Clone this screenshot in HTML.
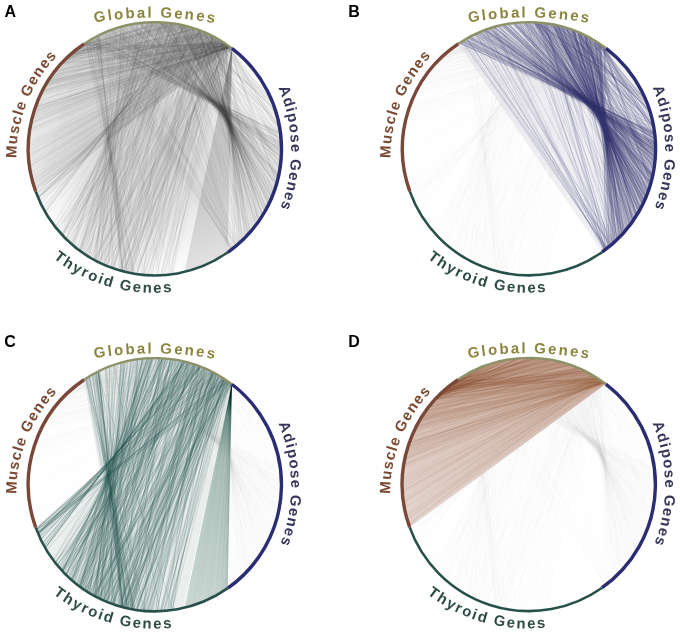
<!DOCTYPE html><html><head><meta charset="utf-8"><style>html,body{margin:0;padding:0;background:#fff;width:680px;height:635px;overflow:hidden}svg{display:block;filter:blur(0.3px)}</style></head><body><svg width="680" height="635" viewBox="0 0 680 635"><defs><g id="sM"><line x1="-124.9" y1="20.7" x2="74.8" y2="-102.1"/><line x1="-71.5" y1="-104.5" x2="69.4" y2="-105.9"/><line x1="-119.8" y1="40.8" x2="73.9" y2="-102.8"/><line x1="-121.6" y1="-35.3" x2="67.4" y2="-107.2"/><line x1="-126.4" y1="7.5" x2="68.9" y2="-106.2"/><line x1="-120.6" y1="-38.4" x2="64.1" y2="-109.1"/><line x1="-88.6" y1="-90.4" x2="75.4" y2="-101.7"/><line x1="-120.9" y1="-37.6" x2="62.9" y2="-109.9"/><line x1="-96.3" y1="-82.2" x2="71.4" y2="-104.5"/><line x1="-82.5" y1="-96.1" x2="69.4" y2="-105.9"/><line x1="-126.5" y1="-4.8" x2="76.1" y2="-101.1"/><line x1="-117.1" y1="-48.2" x2="73.7" y2="-102.9"/><line x1="-78.6" y1="-99.2" x2="73.6" y2="-103"/><line x1="-94.3" y1="-84.5" x2="71.8" y2="-104.3"/><line x1="-120.4" y1="39.1" x2="65.5" y2="-108.4"/><line x1="-101.1" y1="-76.2" x2="69.6" y2="-105.8"/><line x1="-106.7" y1="-68.1" x2="73.1" y2="-103.3"/><line x1="-125.8" y1="14.6" x2="58.5" y2="-112.3"/><line x1="-107.4" y1="-67" x2="71.1" y2="-104.8"/><line x1="-121.4" y1="35.8" x2="71.6" y2="-104.4"/><line x1="-107.3" y1="-67.2" x2="64.2" y2="-109.1"/><line x1="-126.1" y1="10.9" x2="64.6" y2="-108.9"/><line x1="-121.4" y1="35.8" x2="65" y2="-108.6"/><line x1="-123.8" y1="-26.6" x2="59.7" y2="-111.6"/><line x1="-88.7" y1="-90.3" x2="74.8" y2="-102.2"/><line x1="-122.9" y1="30.2" x2="75.9" y2="-101.3"/><line x1="-124.3" y1="24.1" x2="73" y2="-103.5"/><line x1="-99.8" y1="-77.9" x2="65.7" y2="-108.2"/><line x1="-120.2" y1="39.6" x2="69.4" y2="-105.9"/><line x1="-125.9" y1="13.5" x2="73.6" y2="-103"/><line x1="-122.4" y1="32.3" x2="76.2" y2="-101.1"/><line x1="-93.5" y1="-85.4" x2="75.5" y2="-101.6"/><line x1="-83.6" y1="-95.1" x2="74" y2="-102.7"/><line x1="-72.5" y1="-103.8" x2="73.8" y2="-102.9"/><line x1="-120.7" y1="-38.3" x2="74.1" y2="-102.6"/><line x1="-71.8" y1="-104.2" x2="66.7" y2="-107.6"/><line x1="-80.2" y1="-97.9" x2="70.4" y2="-105.2"/><line x1="-72.5" y1="-103.8" x2="75.4" y2="-101.7"/><line x1="-106.5" y1="-68.5" x2="73.3" y2="-103.2"/><line x1="-99.3" y1="-78.6" x2="72.6" y2="-103.7"/><line x1="-100.1" y1="-77.6" x2="66.4" y2="-107.8"/><line x1="-94.4" y1="-84.3" x2="72" y2="-104.1"/><line x1="-76.7" y1="-100.7" x2="69.8" y2="-105.6"/><line x1="-108.2" y1="-65.8" x2="75.5" y2="-101.6"/><line x1="-126.3" y1="9.2" x2="62.7" y2="-110"/><line x1="-108.1" y1="-65.8" x2="70.6" y2="-105.1"/><line x1="-126.4" y1="7.2" x2="66.8" y2="-107.5"/><line x1="-126.4" y1="6.9" x2="72.4" y2="-103.9"/><line x1="-93.7" y1="-85.2" x2="73.2" y2="-103.3"/><line x1="-126.6" y1="-1.2" x2="72" y2="-104.2"/><line x1="-89.9" y1="-89.1" x2="69.6" y2="-105.8"/><line x1="-121.8" y1="-34.6" x2="73.1" y2="-103.4"/><line x1="-125.4" y1="17.7" x2="69.6" y2="-105.8"/><line x1="-109.7" y1="-63.3" x2="71.6" y2="-104.4"/><line x1="-123.9" y1="-26.1" x2="73.4" y2="-103.1"/><line x1="-124.9" y1="-20.9" x2="73.9" y2="-102.8"/><line x1="-125.3" y1="-18.4" x2="76.2" y2="-101.1"/><line x1="-92.4" y1="-86.6" x2="74" y2="-102.7"/><line x1="-123.4" y1="28.2" x2="63.6" y2="-109.5"/><line x1="-121.3" y1="-36.2" x2="73.7" y2="-102.9"/><line x1="-80.2" y1="-98" x2="69.7" y2="-105.7"/><line x1="-105.5" y1="-70" x2="73.1" y2="-103.4"/><line x1="-77.1" y1="-100.4" x2="74.1" y2="-102.6"/><line x1="-126.6" y1="-0.5" x2="70.9" y2="-104.9"/><line x1="-97.9" y1="-80.3" x2="69.2" y2="-106"/><line x1="-117.5" y1="-47" x2="65.1" y2="-108.6"/><line x1="-107.2" y1="-67.3" x2="61.8" y2="-110.5"/><line x1="-105.5" y1="-70" x2="72.8" y2="-103.5"/><line x1="-126.5" y1="-5.6" x2="67.7" y2="-107"/><line x1="-125.5" y1="16.9" x2="73.3" y2="-103.2"/><line x1="-87" y1="-92" x2="73.8" y2="-102.9"/><line x1="-121.5" y1="35.4" x2="68.4" y2="-106.5"/><line x1="-122.2" y1="-32.9" x2="69.1" y2="-106.1"/><line x1="-120.1" y1="40.1" x2="68.4" y2="-106.5"/><line x1="-118.6" y1="-44.2" x2="71.1" y2="-104.7"/><line x1="-126.6" y1="3.1" x2="67.7" y2="-107"/><line x1="-105.1" y1="-70.6" x2="75.5" y2="-101.6"/><line x1="-120.8" y1="37.9" x2="75.2" y2="-101.9"/><line x1="-95.2" y1="-83.4" x2="74.6" y2="-102.3"/><line x1="-126.6" y1="1.7" x2="60.5" y2="-111.2"/><line x1="-119.3" y1="-42.4" x2="75" y2="-102"/><line x1="-123.8" y1="-26.3" x2="73.1" y2="-103.3"/><line x1="-119.8" y1="-40.9" x2="71" y2="-104.8"/><line x1="-125.3" y1="17.8" x2="75.3" y2="-101.8"/><line x1="-113.5" y1="-56" x2="71.7" y2="-104.3"/><line x1="-125.1" y1="-19.3" x2="68.9" y2="-106.2"/><line x1="-121.8" y1="34.5" x2="73.8" y2="-102.8"/><line x1="-79.2" y1="-98.7" x2="74.8" y2="-102.1"/><line x1="-126.4" y1="6.6" x2="75.3" y2="-101.8"/><line x1="-93.7" y1="-85.1" x2="66" y2="-108"/><line x1="-102.8" y1="-73.9" x2="65.7" y2="-108.2"/><line x1="-126.6" y1="-2.4" x2="70.9" y2="-104.9"/><line x1="-108" y1="-66.1" x2="76.1" y2="-101.2"/><line x1="-81" y1="-97.3" x2="75.3" y2="-101.7"/><line x1="-119.8" y1="-40.8" x2="72.9" y2="-103.5"/><line x1="-124.1" y1="-24.8" x2="75.1" y2="-101.9"/><line x1="-119.7" y1="-41.2" x2="74.3" y2="-102.5"/><line x1="-122" y1="33.8" x2="68.9" y2="-106.2"/><line x1="-101.4" y1="-75.8" x2="74.6" y2="-102.3"/><line x1="-122" y1="-33.7" x2="73.8" y2="-102.9"/><line x1="-109.8" y1="-63" x2="76.1" y2="-101.2"/><line x1="-111.2" y1="-60.5" x2="75.1" y2="-102"/><line x1="-107.3" y1="-67.2" x2="75.5" y2="-101.6"/><line x1="-96.2" y1="-82.3" x2="52.3" y2="-115.3"/><line x1="-115.5" y1="-51.9" x2="72.3" y2="-103.9"/><line x1="-125.5" y1="-16.8" x2="73.5" y2="-103.1"/><line x1="-123.4" y1="-28.3" x2="70.6" y2="-105.1"/><line x1="-123.2" y1="29.1" x2="65.7" y2="-108.2"/><line x1="-126.6" y1="2.2" x2="74" y2="-102.7"/><line x1="-106" y1="-69.2" x2="65.3" y2="-108.4"/><line x1="-123.7" y1="-27.1" x2="71" y2="-104.8"/><line x1="-125.5" y1="17" x2="65.6" y2="-108.3"/><line x1="-114.8" y1="-53.4" x2="75.3" y2="-101.8"/><line x1="-76.6" y1="-100.8" x2="71.7" y2="-104.3"/><line x1="-119.9" y1="40.6" x2="69.6" y2="-105.7"/><line x1="-79.5" y1="-98.5" x2="73.7" y2="-102.9"/><line x1="-101.2" y1="-76" x2="73.1" y2="-103.4"/><line x1="-109.1" y1="-64.2" x2="71.7" y2="-104.4"/><line x1="-115.8" y1="-51.1" x2="70.1" y2="-105.4"/><line x1="-78.8" y1="-99.1" x2="69.6" y2="-105.8"/><line x1="-122.5" y1="32" x2="66.5" y2="-107.7"/><line x1="-122.7" y1="31.3" x2="68.4" y2="-106.6"/><line x1="-123" y1="-30" x2="74.4" y2="-102.5"/><line x1="-77.2" y1="-100.3" x2="67" y2="-107.4"/><line x1="-109.9" y1="-62.8" x2="76.1" y2="-101.2"/><line x1="-96.6" y1="-81.9" x2="71.4" y2="-104.6"/><line x1="-98.2" y1="-79.9" x2="71.1" y2="-104.7"/><line x1="-98.1" y1="-80.1" x2="68" y2="-106.8"/><line x1="-113.5" y1="-56.1" x2="72.5" y2="-103.8"/><line x1="-73.6" y1="-103" x2="55.8" y2="-113.6"/><line x1="-109" y1="-64.4" x2="74.2" y2="-102.5"/><line x1="-71.6" y1="-104.4" x2="74.2" y2="-102.6"/><line x1="-78" y1="-99.7" x2="72.3" y2="-103.9"/><line x1="-107.4" y1="-67.1" x2="65.8" y2="-108.1"/><line x1="-125.1" y1="-19.7" x2="69.7" y2="-105.7"/><line x1="-102.8" y1="-73.8" x2="69.8" y2="-105.6"/><line x1="-110.9" y1="-61.1" x2="75.8" y2="-101.4"/><line x1="-76.7" y1="-100.7" x2="69.1" y2="-106.1"/><line x1="-112.8" y1="-57.6" x2="65.7" y2="-108.2"/><line x1="-125.2" y1="-19.1" x2="74.2" y2="-102.6"/><line x1="-125.6" y1="-16.2" x2="73.5" y2="-103.1"/><line x1="-112.9" y1="-57.3" x2="72.6" y2="-103.7"/><line x1="-87.6" y1="-91.4" x2="60.6" y2="-111.1"/><line x1="-119.7" y1="-41.2" x2="71.2" y2="-104.7"/><line x1="-126.5" y1="-3.9" x2="72.5" y2="-103.8"/><line x1="-83.3" y1="-95.3" x2="70.2" y2="-105.4"/><line x1="-71.9" y1="-104.2" x2="57.1" y2="-113"/><line x1="-93.4" y1="-85.4" x2="76" y2="-101.3"/><line x1="-114.1" y1="-54.7" x2="70.7" y2="-105"/><line x1="-109.5" y1="-63.5" x2="72.1" y2="-104"/><line x1="-122.5" y1="31.9" x2="71.9" y2="-104.2"/><line x1="-90.9" y1="-88.1" x2="65.7" y2="-108.2"/><line x1="-107.2" y1="-67.3" x2="67.6" y2="-107"/><line x1="-114.9" y1="-53.2" x2="69.3" y2="-105.9"/><line x1="-124.4" y1="23.3" x2="73.5" y2="-103.1"/><line x1="-126.5" y1="5" x2="71.6" y2="-104.4"/><line x1="-125.3" y1="18.2" x2="69.5" y2="-105.8"/><line x1="-84.8" y1="-94" x2="68" y2="-106.8"/><line x1="-91.9" y1="-87.1" x2="69.5" y2="-105.8"/><line x1="-125.1" y1="-19.7" x2="74.5" y2="-102.4"/><line x1="-124.1" y1="-25" x2="63.3" y2="-109.6"/><line x1="-74.8" y1="-102.1" x2="70.6" y2="-105.1"/><line x1="-86.8" y1="-92.1" x2="71.2" y2="-104.7"/><line x1="-108.4" y1="-65.4" x2="64.9" y2="-108.7"/><line x1="-87.4" y1="-91.5" x2="58.9" y2="-112.1"/><line x1="-106.5" y1="-68.4" x2="74.8" y2="-102.2"/><line x1="-112" y1="-59" x2="76.1" y2="-101.2"/><line x1="-126.4" y1="-7.2" x2="68.6" y2="-106.4"/><line x1="-102.5" y1="-74.3" x2="68.4" y2="-106.5"/><line x1="-96.2" y1="-82.3" x2="65.8" y2="-108.1"/><line x1="-102.8" y1="-73.9" x2="68.7" y2="-106.3"/><line x1="-112.5" y1="-58.1" x2="64.5" y2="-108.9"/><line x1="-125.7" y1="15.1" x2="73.5" y2="-103.1"/><line x1="-77.6" y1="-100" x2="70.4" y2="-105.2"/><line x1="-92.6" y1="-86.3" x2="72.8" y2="-103.6"/><line x1="-113.1" y1="-56.9" x2="74" y2="-102.7"/><line x1="-82.7" y1="-95.9" x2="68.2" y2="-106.7"/><line x1="-108.9" y1="-64.6" x2="70.5" y2="-105.2"/><line x1="-112.2" y1="-58.6" x2="76.1" y2="-101.1"/><line x1="-108.6" y1="-65" x2="59.1" y2="-112"/><line x1="-89.8" y1="-89.3" x2="42.5" y2="-119.3"/><line x1="-83.5" y1="-95.1" x2="-1.3" y2="-126.6"/><line x1="-89.9" y1="-89.1" x2="40.4" y2="-120"/><line x1="-119.2" y1="-42.7" x2="75.3" y2="-101.8"/><line x1="-91" y1="-88" x2="30" y2="-123"/><line x1="-118.3" y1="-45.1" x2="49" y2="-116.8"/><line x1="-110.3" y1="-62.1" x2="53.6" y2="-114.7"/><line x1="-93" y1="-85.9" x2="40.4" y2="-120"/><line x1="-106.8" y1="-68" x2="75.3" y2="-101.8"/><line x1="-91.5" y1="-87.5" x2="46.1" y2="-117.9"/><line x1="-123.3" y1="-28.8" x2="75.3" y2="-101.8"/><line x1="-73.5" y1="-103" x2="6.7" y2="-126.4"/><line x1="-122.7" y1="-31.3" x2="75.3" y2="-101.8"/><line x1="-108.9" y1="-64.6" x2="66.1" y2="-108"/><line x1="-103.4" y1="-73.1" x2="68" y2="-106.8"/><line x1="-109.8" y1="-63" x2="30.1" y2="-123"/><line x1="-109.6" y1="-63.4" x2="62.5" y2="-110.1"/><line x1="-73.6" y1="-103" x2="8.3" y2="-126.3"/><line x1="-85.3" y1="-93.6" x2="18.5" y2="-125.2"/><line x1="-80.5" y1="-97.7" x2="15" y2="-125.7"/><line x1="-96.1" y1="-82.4" x2="32.6" y2="-122.3"/><line x1="-100" y1="-77.7" x2="37.2" y2="-121"/><line x1="-112.6" y1="-57.8" x2="49" y2="-116.7"/><line x1="-105.4" y1="-70.1" x2="47.8" y2="-117.2"/><line x1="-97.5" y1="-80.8" x2="48.7" y2="-116.9"/><line x1="-106.7" y1="-68.2" x2="70.2" y2="-105.4"/><line x1="-102.7" y1="-74.1" x2="49.8" y2="-116.4"/><line x1="-119.5" y1="-41.8" x2="75.3" y2="-101.8"/><line x1="-109.8" y1="-62.9" x2="75.3" y2="-101.8"/><line x1="-85.4" y1="-93.5" x2="0.3" y2="-126.6"/><line x1="-89" y1="-90.1" x2="33.2" y2="-122.2"/><line x1="-84.4" y1="-94.4" x2="26.6" y2="-123.8"/><line x1="-110.6" y1="-61.6" x2="71" y2="-104.8"/><line x1="-80.4" y1="-97.8" x2="34.8" y2="-121.7"/><line x1="-117.3" y1="-47.6" x2="72.8" y2="-103.6"/><line x1="-98" y1="-80.1" x2="56" y2="-113.5"/><line x1="-117.5" y1="-47.2" x2="57.4" y2="-112.8"/><line x1="-101" y1="-76.4" x2="55.8" y2="-113.7"/><line x1="-101.2" y1="-76.1" x2="34" y2="-121.9"/><line x1="-104.5" y1="-71.4" x2="39.4" y2="-120.3"/><line x1="-120.8" y1="-37.9" x2="75.3" y2="-101.8"/><line x1="-73.1" y1="-103.4" x2="1.9" y2="-126.6"/><line x1="-122.6" y1="-31.4" x2="75.3" y2="-101.8"/><line x1="-71.4" y1="-104.5" x2="7.6" y2="-126.4"/><line x1="-105" y1="-70.8" x2="58" y2="-112.6"/><line x1="-104" y1="-72.2" x2="48.7" y2="-116.8"/><line x1="-71.2" y1="-104.7" x2="-13.4" y2="-125.9"/><line x1="-83.9" y1="-94.8" x2="40.5" y2="-119.9"/><line x1="-90.5" y1="-88.5" x2="49.1" y2="-116.7"/><line x1="-93.8" y1="-85" x2="39.4" y2="-120.3"/><line x1="-95.5" y1="-83.1" x2="39.1" y2="-120.4"/><line x1="-90.8" y1="-88.2" x2="24.4" y2="-124.2"/><line x1="-89.3" y1="-89.7" x2="19.7" y2="-125.1"/><line x1="-123.9" y1="-26.2" x2="75.3" y2="-101.8"/><line x1="-120" y1="-40.5" x2="69.2" y2="-106"/><line x1="-74.9" y1="-102.1" x2="11.2" y2="-126.1"/><line x1="-120.6" y1="-38.4" x2="75.3" y2="-101.8"/><line x1="-75.2" y1="-101.8" x2="7.5" y2="-126.4"/><line x1="-112.4" y1="-58.2" x2="72.5" y2="-103.8"/><line x1="-100.2" y1="-77.4" x2="53.4" y2="-114.8"/><line x1="-88.2" y1="-90.8" x2="20.8" y2="-124.9"/><line x1="-108.5" y1="-65.3" x2="68.2" y2="-106.6"/><line x1="-74.1" y1="-102.7" x2="11.2" y2="-126.1"/><line x1="-90.4" y1="-88.6" x2="51.6" y2="-115.6"/><line x1="-106.1" y1="-69.1" x2="71.7" y2="-104.3"/><line x1="-85.5" y1="-93.4" x2="23.4" y2="-124.4"/><line x1="-121.2" y1="-36.4" x2="75.3" y2="-101.8"/><line x1="-121.9" y1="-34.2" x2="75.3" y2="-101.8"/><line x1="-109.1" y1="-64.3" x2="50.9" y2="-115.9"/><line x1="-85.5" y1="-93.3" x2="50.5" y2="-116.1"/><line x1="-121.1" y1="-37" x2="75.3" y2="-101.8"/><line x1="-74.2" y1="-102.6" x2="6.5" y2="-126.4"/><line x1="-81.4" y1="-96.9" x2="20.2" y2="-125"/><line x1="-104.7" y1="-71.1" x2="64.8" y2="-108.7"/><line x1="-113.5" y1="-56" x2="57.1" y2="-113"/><line x1="-91.8" y1="-87.2" x2="22.9" y2="-124.5"/><line x1="-121.6" y1="-35.1" x2="75.3" y2="-101.8"/><line x1="-79.9" y1="-98.2" x2="23.7" y2="-124.4"/><line x1="-83.6" y1="-95" x2="29.6" y2="-123.1"/><line x1="-89.9" y1="-89.2" x2="64.5" y2="-108.9"/><line x1="-100.8" y1="-76.6" x2="51.3" y2="-115.7"/><line x1="-123" y1="-29.9" x2="75.3" y2="-101.8"/><line x1="-104.5" y1="-71.4" x2="66.2" y2="-107.9"/><line x1="-77.8" y1="-99.9" x2="24.8" y2="-124.2"/><line x1="-80.6" y1="-97.6" x2="14.4" y2="-125.8"/><line x1="-88.6" y1="-90.5" x2="18.9" y2="-125.2"/><line x1="-82.7" y1="-95.8" x2="29" y2="-123.2"/><line x1="-105.5" y1="-70" x2="51.1" y2="-115.8"/><line x1="-122.2" y1="-32.9" x2="75.3" y2="-101.8"/><line x1="-88.7" y1="-90.3" x2="22.9" y2="-124.5"/><line x1="-99.3" y1="-78.5" x2="62.6" y2="-110"/><line x1="-77.8" y1="-99.9" x2="14.6" y2="-125.8"/><line x1="-114" y1="-55.1" x2="73.4" y2="-103.2"/><line x1="-119.6" y1="-41.6" x2="67.4" y2="-107.2"/><line x1="-83.1" y1="-95.5" x2="6.9" y2="-126.4"/><line x1="-91.1" y1="-87.9" x2="11.6" y2="-126.1"/><line x1="-81.9" y1="-96.6" x2="23.4" y2="-124.4"/><line x1="-84.8" y1="-94" x2="17.5" y2="-125.4"/><line x1="-118.6" y1="-44.2" x2="57.4" y2="-112.8"/><line x1="-114.8" y1="-53.3" x2="75.3" y2="-101.8"/><line x1="-86.9" y1="-92" x2="29.5" y2="-123.1"/><line x1="-103.4" y1="-73.1" x2="43" y2="-119.1"/><line x1="-76.6" y1="-100.8" x2="28.5" y2="-123.4"/><line x1="-76.9" y1="-100.5" x2="21.2" y2="-124.8"/><line x1="-103.8" y1="-72.5" x2="57.4" y2="-112.9"/><line x1="-120.4" y1="-39.1" x2="75.3" y2="-101.8"/><line x1="-96.4" y1="-82" x2="39.4" y2="-120.3"/><line x1="-98.2" y1="-79.9" x2="53.8" y2="-114.6"/><line x1="-105.4" y1="-70.1" x2="45.1" y2="-118.3"/><line x1="-106.9" y1="-67.9" x2="44.8" y2="-118.4"/><line x1="-107.8" y1="-66.4" x2="47.4" y2="-117.4"/><line x1="-77.6" y1="-100.1" x2="20" y2="-125"/><line x1="-118.5" y1="-44.5" x2="75.3" y2="-101.8"/><line x1="-84.2" y1="-94.6" x2="18.4" y2="-125.3"/><line x1="-100.1" y1="-77.5" x2="52.4" y2="-115.2"/><line x1="-81.4" y1="-96.9" x2="35.8" y2="-121.4"/><line x1="-78.2" y1="-99.5" x2="-0.5" y2="-126.6"/><line x1="-86.4" y1="-92.5" x2="36" y2="-121.4"/><line x1="-111.4" y1="-60.1" x2="75.3" y2="-101.8"/><line x1="-110.2" y1="-62.4" x2="67.5" y2="-107.1"/><line x1="-103.1" y1="-73.5" x2="58.4" y2="-112.3"/><line x1="-122.4" y1="-32.4" x2="75.3" y2="-101.8"/><line x1="-123.8" y1="-26.3" x2="75.3" y2="-101.8"/><line x1="-86.8" y1="-92.1" x2="42.7" y2="-119.2"/><line x1="-100.7" y1="-76.7" x2="38.8" y2="-120.5"/><line x1="-96.7" y1="-81.7" x2="49.5" y2="-116.5"/><line x1="-112.1" y1="-58.9" x2="75.3" y2="-101.8"/><line x1="-120.6" y1="-38.6" x2="75.3" y2="-101.8"/><line x1="-86.7" y1="-92.2" x2="31.1" y2="-122.7"/><line x1="-87.2" y1="-91.8" x2="31.8" y2="-122.5"/><line x1="-72.4" y1="-103.9" x2="24.8" y2="-124.1"/><line x1="-113.9" y1="-55.2" x2="75.3" y2="-101.8"/><line x1="-95.2" y1="-83.5" x2="27.6" y2="-123.5"/><line x1="-71.2" y1="-104.7" x2="-10" y2="-126.2"/><line x1="-120.3" y1="-39.4" x2="75.3" y2="-101.8"/><line x1="-109.1" y1="-64.2" x2="68.5" y2="-106.5"/><line x1="-94.7" y1="-84" x2="40.1" y2="-120.1"/><line x1="-83.6" y1="-95.1" x2="25.4" y2="-124"/><line x1="-72.6" y1="-103.7" x2="5.1" y2="-126.5"/><line x1="-71.6" y1="-104.4" x2="12.3" y2="-126"/><line x1="-113.4" y1="-56.3" x2="51.9" y2="-115.5"/><line x1="-100.9" y1="-76.5" x2="54.9" y2="-114.1"/><line x1="-78.3" y1="-99.5" x2="29.7" y2="-123.1"/><line x1="-76.1" y1="-101.1" x2="21.9" y2="-124.7"/><line x1="-114.8" y1="-53.4" x2="61.1" y2="-110.9"/><line x1="-122.9" y1="-30.3" x2="75.3" y2="-101.8"/><line x1="-101.9" y1="-75.1" x2="53.3" y2="-114.8"/><line x1="-100.2" y1="-77.4" x2="46.2" y2="-117.9"/><line x1="-72.3" y1="-103.9" x2="13.4" y2="-125.9"/><line x1="-116.6" y1="-49.2" x2="75.3" y2="-101.8"/><line x1="-103.1" y1="-73.5" x2="39.8" y2="-120.2"/><line x1="-93.9" y1="-84.9" x2="44.1" y2="-118.7"/><line x1="-107.8" y1="-66.3" x2="75.3" y2="-101.8"/><line x1="-121.2" y1="-36.7" x2="75.3" y2="-101.8"/><line x1="-124.2" y1="-24.3" x2="75.3" y2="-101.8"/><line x1="-85" y1="-93.8" x2="30.1" y2="-123"/><line x1="-73.4" y1="-103.1" x2="13.6" y2="-125.9"/><line x1="-75.9" y1="-101.3" x2="27.3" y2="-123.6"/><line x1="-111.5" y1="-59.9" x2="73.2" y2="-103.3"/><line x1="-92.5" y1="-86.5" x2="48.8" y2="-116.8"/><line x1="-84.4" y1="-94.4" x2="20.4" y2="-125"/><line x1="-71.2" y1="-104.7" x2="21.2" y2="-124.8"/><line x1="-104.7" y1="-71.1" x2="63" y2="-109.8"/><line x1="-119.5" y1="-41.9" x2="75.3" y2="-101.8"/><line x1="-91.7" y1="-87.3" x2="52.3" y2="-115.3"/><line x1="-85.8" y1="-93.1" x2="16.6" y2="-125.5"/><line x1="-85.8" y1="-93.1" x2="14.8" y2="-125.7"/><line x1="-105.1" y1="-70.5" x2="49.4" y2="-116.5"/><line x1="-119.1" y1="-42.8" x2="75.3" y2="-101.8"/><line x1="-113.2" y1="-56.6" x2="73" y2="-103.5"/></g><g id="sMt"><line x1="-76" y1="-101.2" x2="-14.9" y2="-125.7"/><line x1="-81.7" y1="-96.7" x2="-24.8" y2="-124.1"/><line x1="-89.9" y1="-89.1" x2="-32.2" y2="-122.4"/><line x1="-91.8" y1="-87.2" x2="-27.6" y2="-123.6"/><line x1="-89.4" y1="-89.6" x2="33.6" y2="-122.1"/><line x1="-88.8" y1="-90.2" x2="-53.5" y2="-114.7"/><line x1="-85.1" y1="-93.8" x2="-32.8" y2="-122.3"/><line x1="-78.9" y1="-99" x2="-30" y2="-123"/><line x1="-82" y1="-96.5" x2="-36.3" y2="-121.3"/><line x1="-83.7" y1="-95" x2="59.3" y2="-111.8"/><line x1="-87.7" y1="-91.3" x2="13.2" y2="-125.9"/><line x1="-84.7" y1="-94.1" x2="-50.4" y2="-116.1"/><line x1="-93.7" y1="-85.2" x2="56.2" y2="-113.5"/><line x1="-86.9" y1="-92.1" x2="35.4" y2="-121.5"/><line x1="-85.3" y1="-93.6" x2="55.6" y2="-113.7"/><line x1="-90" y1="-89" x2="7.1" y2="-126.4"/><line x1="-82.2" y1="-96.3" x2="49.8" y2="-116.4"/><line x1="-93.5" y1="-85.4" x2="-10.2" y2="-126.2"/><line x1="-83.9" y1="-94.8" x2="21.9" y2="-124.7"/><line x1="-91.2" y1="-87.8" x2="15.6" y2="-125.6"/><line x1="-78.8" y1="-99.1" x2="41.8" y2="-119.5"/><line x1="-89.4" y1="-89.6" x2="1" y2="-126.6"/><line x1="-87.8" y1="-91.2" x2="-6.6" y2="-126.4"/><line x1="-86.4" y1="-92.5" x2="68.9" y2="-106.2"/><line x1="-93.8" y1="-85" x2="69.2" y2="-106"/><line x1="-93.4" y1="-85.5" x2="-49.4" y2="-116.6"/><line x1="-89.8" y1="-89.2" x2="-20.9" y2="-124.9"/><line x1="-74.9" y1="-102.1" x2="56" y2="-113.5"/><line x1="-73" y1="-103.5" x2="-6.3" y2="-126.4"/><line x1="-93.8" y1="-85.1" x2="27.1" y2="-123.7"/><line x1="-73.8" y1="-102.8" x2="-45.5" y2="-118.1"/><line x1="-75.6" y1="-101.6" x2="-59.2" y2="-111.9"/><line x1="-77.9" y1="-99.8" x2="8.4" y2="-126.3"/><line x1="-73.6" y1="-103" x2="60.3" y2="-111.3"/><line x1="-93.1" y1="-85.8" x2="9.1" y2="-126.3"/><line x1="-89" y1="-90" x2="0.8" y2="-126.6"/><line x1="-92.7" y1="-86.2" x2="-10.5" y2="-126.2"/><line x1="-85.4" y1="-93.5" x2="-58.9" y2="-112"/><line x1="-83.9" y1="-94.8" x2="62.7" y2="-110"/><line x1="-92.8" y1="-86.1" x2="68.8" y2="-106.3"/><line x1="-83.6" y1="-95.1" x2="-31.5" y2="-122.6"/><line x1="-72.1" y1="-104.1" x2="5.6" y2="-126.5"/><line x1="-84.7" y1="-94.1" x2="-8.2" y2="-126.3"/><line x1="-74.3" y1="-102.5" x2="-42.5" y2="-119.2"/><line x1="-89.7" y1="-89.3" x2="-21.4" y2="-124.8"/><line x1="-92.8" y1="-86.1" x2="56.4" y2="-113.4"/><line x1="-83.6" y1="-95.1" x2="23.7" y2="-124.4"/><line x1="-74.2" y1="-102.6" x2="8.6" y2="-126.3"/><line x1="-88.3" y1="-90.7" x2="13.8" y2="-125.8"/><line x1="-83.3" y1="-95.3" x2="-19.2" y2="-125.1"/><line x1="-89.2" y1="-89.8" x2="-10.9" y2="-126.1"/><line x1="-77.8" y1="-99.9" x2="-37.7" y2="-120.8"/><line x1="-71.4" y1="-104.5" x2="-28.1" y2="-123.4"/><line x1="-88.4" y1="-90.7" x2="-43.5" y2="-118.9"/><line x1="-85.7" y1="-93.1" x2="-8.9" y2="-126.3"/><line x1="-79.1" y1="-98.9" x2="62.9" y2="-109.9"/><line x1="-88.9" y1="-90.1" x2="51.9" y2="-115.5"/><line x1="-87.6" y1="-91.4" x2="-3.9" y2="-126.5"/><line x1="-91.4" y1="-87.6" x2="62.5" y2="-110.1"/><line x1="-86.2" y1="-92.8" x2="37.4" y2="-120.9"/><line x1="-93.5" y1="-85.3" x2="36.9" y2="-121.1"/><line x1="-89.4" y1="-89.7" x2="2.5" y2="-126.6"/><line x1="-79.3" y1="-98.7" x2="-37" y2="-121.1"/><line x1="-82.7" y1="-95.9" x2="55.3" y2="-113.9"/><line x1="-90.7" y1="-88.3" x2="4.8" y2="-126.5"/><line x1="-90.3" y1="-88.8" x2="-40.7" y2="-119.9"/><line x1="-83.5" y1="-95.1" x2="3.2" y2="-126.6"/><line x1="-80" y1="-98.1" x2="58.1" y2="-112.5"/><line x1="-78.5" y1="-99.3" x2="-13.9" y2="-125.8"/><line x1="-83.6" y1="-95.1" x2="33.7" y2="-122"/><line x1="-75.3" y1="-101.8" x2="35" y2="-121.7"/><line x1="-83.2" y1="-95.4" x2="-42" y2="-119.4"/><line x1="-74.6" y1="-102.3" x2="-21.7" y2="-124.7"/><line x1="-85.4" y1="-93.4" x2="61.5" y2="-110.7"/><line x1="-89.8" y1="-89.3" x2="65.1" y2="-108.6"/><line x1="-89.3" y1="-89.7" x2="-48.2" y2="-117.1"/><line x1="-83" y1="-95.6" x2="50.1" y2="-116.3"/><line x1="-85.5" y1="-93.4" x2="56.2" y2="-113.4"/><line x1="-85.6" y1="-93.2" x2="52.6" y2="-115.1"/><line x1="-91.8" y1="-87.2" x2="-21.4" y2="-124.8"/><line x1="-91.6" y1="-87.4" x2="42.7" y2="-119.2"/><line x1="-84" y1="-94.7" x2="31.2" y2="-122.7"/><line x1="-89.1" y1="-89.9" x2="42" y2="-119.4"/><line x1="-71.5" y1="-104.5" x2="-49.3" y2="-116.6"/><line x1="-87.4" y1="-91.6" x2="59.6" y2="-111.7"/><line x1="-75" y1="-102" x2="59.9" y2="-111.5"/><line x1="-89.4" y1="-89.7" x2="18.3" y2="-125.3"/><line x1="-92.3" y1="-86.6" x2="-0.4" y2="-126.6"/><line x1="-81.6" y1="-96.8" x2="-24.9" y2="-124.1"/><line x1="-85.1" y1="-93.8" x2="-9.7" y2="-126.2"/></g><g id="sAd"><line x1="23.2" y1="-124.5" x2="113.8" y2="55.5"/><line x1="45.8" y1="-118" x2="105.1" y2="70.6"/><line x1="-27.1" y1="-123.7" x2="126" y2="12.1"/><line x1="-69.2" y1="-106" x2="126" y2="-12.1"/><line x1="48.8" y1="-116.8" x2="102.5" y2="74.3"/><line x1="-26.6" y1="-123.8" x2="125.3" y2="17.8"/><line x1="-33.9" y1="-122" x2="126.4" y2="7.2"/><line x1="4.6" y1="-126.5" x2="119" y2="43.1"/><line x1="75.6" y1="-101.5" x2="79.9" y2="98.2"/><line x1="22.8" y1="-124.5" x2="116.6" y2="49.4"/><line x1="-39.8" y1="-120.2" x2="126.5" y2="5.5"/><line x1="21.3" y1="-124.8" x2="114.5" y2="54"/><line x1="-65.2" y1="-108.5" x2="125.7" y2="-14.7"/><line x1="-1.4" y1="-126.6" x2="122" y2="33.9"/><line x1="23.9" y1="-124.3" x2="113.9" y2="55.3"/><line x1="3.4" y1="-126.6" x2="120.8" y2="37.8"/><line x1="-43.2" y1="-119" x2="126.6" y2="0.6"/><line x1="-42" y1="-119.4" x2="126.6" y2="1.6"/><line x1="-69.4" y1="-105.9" x2="125.8" y2="-14.1"/><line x1="-48.7" y1="-116.9" x2="126.6" y2="-0.9"/><line x1="60.5" y1="-111.2" x2="92.1" y2="86.9"/><line x1="55.9" y1="-113.6" x2="95.7" y2="82.9"/><line x1="40.8" y1="-119.8" x2="109.4" y2="63.7"/><line x1="10.3" y1="-126.2" x2="118.2" y2="45.2"/><line x1="59.3" y1="-111.9" x2="87.7" y2="91.3"/><line x1="19.1" y1="-125.2" x2="117.6" y2="47"/><line x1="-13.6" y1="-125.9" x2="123.3" y2="28.7"/><line x1="-49.3" y1="-116.6" x2="126.6" y2="1.8"/><line x1="-14.9" y1="-125.7" x2="123.5" y2="28.1"/><line x1="17.8" y1="-125.3" x2="117.2" y2="48"/><line x1="25.2" y1="-124.1" x2="114.4" y2="54.2"/><line x1="-49.2" y1="-116.6" x2="126.5" y2="-5.6"/><line x1="-36.2" y1="-121.3" x2="126.3" y2="8.4"/><line x1="-56.8" y1="-113.1" x2="126.6" y2="-2.5"/><line x1="-39.8" y1="-120.2" x2="126.6" y2="3.3"/><line x1="-27" y1="-123.7" x2="126.3" y2="8.2"/><line x1="28.9" y1="-123.3" x2="112.4" y2="58.2"/><line x1="55.7" y1="-113.7" x2="94.3" y2="84.5"/><line x1="63.7" y1="-109.4" x2="90.6" y2="88.5"/><line x1="-50" y1="-116.3" x2="126.5" y2="4.6"/><line x1="66.9" y1="-107.5" x2="87.6" y2="91.4"/><line x1="-44.9" y1="-118.4" x2="126.6" y2="2"/><line x1="25.7" y1="-124" x2="115.3" y2="52.3"/><line x1="-15.4" y1="-125.7" x2="124.4" y2="23.3"/><line x1="-36.2" y1="-121.3" x2="126.1" y2="11.8"/><line x1="60" y1="-111.5" x2="90.9" y2="88.2"/><line x1="11.3" y1="-126.1" x2="116.6" y2="49.4"/><line x1="42.2" y1="-119.4" x2="104" y2="72.1"/><line x1="-16" y1="-125.6" x2="123.9" y2="25.9"/><line x1="-53.2" y1="-114.9" x2="126" y2="-12.1"/><line x1="28.2" y1="-123.4" x2="114.1" y2="54.9"/><line x1="7.6" y1="-126.4" x2="115.9" y2="51"/><line x1="-20.3" y1="-125" x2="125.2" y2="18.7"/><line x1="32.1" y1="-122.5" x2="110" y2="62.6"/><line x1="6.8" y1="-126.4" x2="119.6" y2="41.4"/><line x1="64.4" y1="-109" x2="87.4" y2="91.5"/><line x1="67.7" y1="-107" x2="86.3" y2="92.6"/><line x1="42.4" y1="-119.3" x2="107.5" y2="66.9"/><line x1="-51.2" y1="-115.8" x2="126.5" y2="-5.9"/><line x1="51.4" y1="-115.7" x2="98.7" y2="79.3"/><line x1="23.7" y1="-124.4" x2="115.1" y2="52.7"/><line x1="5.9" y1="-126.5" x2="122" y2="33.9"/><line x1="-38.1" y1="-120.7" x2="126.3" y2="9.2"/><line x1="-17.4" y1="-125.4" x2="123.7" y2="26.8"/><line x1="-20" y1="-125" x2="124.2" y2="24.3"/><line x1="15.3" y1="-125.7" x2="115.7" y2="51.4"/><line x1="-31.4" y1="-122.6" x2="126.4" y2="6.7"/><line x1="-4.8" y1="-126.5" x2="120.5" y2="38.8"/><line x1="6.3" y1="-126.4" x2="119.9" y2="40.8"/><line x1="62.7" y1="-110" x2="93.1" y2="85.8"/><line x1="16.4" y1="-125.5" x2="117.4" y2="47.4"/><line x1="60.2" y1="-111.4" x2="94.6" y2="84.1"/><line x1="66.3" y1="-107.9" x2="90.9" y2="88.1"/><line x1="-7" y1="-126.4" x2="122.7" y2="31"/><line x1="70" y1="-105.5" x2="83.9" y2="94.8"/><line x1="50.1" y1="-116.3" x2="100.9" y2="76.5"/><line x1="37.1" y1="-121" x2="108.3" y2="65.5"/><line x1="-22.1" y1="-124.7" x2="125.2" y2="18.6"/><line x1="-41.6" y1="-119.6" x2="126.6" y2="1.8"/><line x1="-40.1" y1="-120.1" x2="126.6" y2="3.5"/><line x1="55" y1="-114" x2="95.7" y2="82.8"/><line x1="0.6" y1="-126.6" x2="122.5" y2="31.9"/><line x1="28.4" y1="-123.4" x2="113.5" y2="56"/><line x1="71.3" y1="-104.6" x2="80.4" y2="97.8"/><line x1="23.7" y1="-124.4" x2="114" y2="55"/><line x1="-44.4" y1="-118.6" x2="126.5" y2="4.7"/><line x1="-9.9" y1="-126.2" x2="123.3" y2="28.8"/><line x1="51.4" y1="-115.7" x2="102.1" y2="74.8"/><line x1="-54.5" y1="-114.2" x2="126.4" y2="-7.2"/><line x1="49.6" y1="-116.5" x2="100.6" y2="76.9"/><line x1="7.5" y1="-126.4" x2="119.8" y2="40.8"/><line x1="-63.7" y1="-109.4" x2="125.8" y2="-13.9"/><line x1="-67.2" y1="-107.3" x2="125.6" y2="-15.6"/><line x1="-34.8" y1="-121.7" x2="125.9" y2="12.9"/><line x1="14.3" y1="-125.8" x2="118.1" y2="45.7"/><line x1="17.9" y1="-125.3" x2="114.5" y2="53.9"/><line x1="31.2" y1="-122.7" x2="111.6" y2="59.8"/><line x1="-25.5" y1="-124" x2="125" y2="20.3"/><line x1="9.8" y1="-126.2" x2="117.2" y2="47.9"/><line x1="28.2" y1="-123.4" x2="109.6" y2="63.4"/><line x1="-43.3" y1="-119" x2="126.4" y2="7.1"/><line x1="-64.6" y1="-108.9" x2="126.2" y2="-10.1"/><line x1="71.1" y1="-104.7" x2="78.3" y2="99.5"/><line x1="-63.2" y1="-109.7" x2="125.2" y2="-18.9"/><line x1="-24.3" y1="-124.2" x2="125.8" y2="14.1"/><line x1="23.5" y1="-124.4" x2="112.7" y2="57.6"/><line x1="-25" y1="-124.1" x2="126.3" y2="9.3"/><line x1="48.9" y1="-116.8" x2="100.9" y2="76.5"/><line x1="44.5" y1="-118.5" x2="103.8" y2="72.5"/><line x1="-42.5" y1="-119.3" x2="126.6" y2="-1.6"/><line x1="25.3" y1="-124" x2="115.2" y2="52.5"/><line x1="-56.9" y1="-113.1" x2="126.5" y2="-5.1"/><line x1="24.3" y1="-124.3" x2="113.2" y2="56.6"/><line x1="49.8" y1="-116.4" x2="101.9" y2="75.1"/><line x1="37.9" y1="-120.8" x2="109.7" y2="63.2"/><line x1="62.3" y1="-110.2" x2="92.9" y2="86"/><line x1="-66.4" y1="-107.8" x2="125.9" y2="-13.6"/><line x1="-39.9" y1="-120.2" x2="126.6" y2="0.8"/><line x1="69.2" y1="-106" x2="85" y2="93.9"/><line x1="-34.2" y1="-121.9" x2="126.5" y2="4.9"/><line x1="28.1" y1="-123.4" x2="111.1" y2="60.6"/><line x1="-14.7" y1="-125.7" x2="123.9" y2="25.9"/><line x1="28.9" y1="-123.3" x2="110" y2="62.6"/><line x1="-15.3" y1="-125.7" x2="125.5" y2="16.5"/><line x1="10" y1="-126.2" x2="121" y2="37.2"/><line x1="-35" y1="-121.7" x2="126.4" y2="7.4"/><line x1="-2.8" y1="-126.6" x2="120.1" y2="40"/><line x1="42.4" y1="-119.3" x2="107.7" y2="66.5"/><line x1="-27.1" y1="-123.7" x2="124.9" y2="20.5"/><line x1="43.9" y1="-118.7" x2="104.1" y2="72"/><line x1="-51.7" y1="-115.6" x2="126.6" y2="-2.7"/><line x1="-59" y1="-112" x2="126.4" y2="-6.6"/><line x1="-31.7" y1="-122.6" x2="126.3" y2="8.4"/><line x1="53.9" y1="-114.5" x2="99.1" y2="78.8"/><line x1="-43.9" y1="-118.7" x2="126.6" y2="-1.8"/><line x1="61" y1="-110.9" x2="91.8" y2="87.1"/><line x1="36.2" y1="-121.3" x2="105.2" y2="70.4"/><line x1="38.7" y1="-120.6" x2="108.4" y2="65.4"/><line x1="52.9" y1="-115" x2="97.1" y2="81.2"/><line x1="-16.2" y1="-125.6" x2="124" y2="25.4"/><line x1="6.8" y1="-126.4" x2="119.3" y2="42.5"/><line x1="-43.4" y1="-118.9" x2="126.6" y2="2.6"/><line x1="9.5" y1="-126.2" x2="116.9" y2="48.6"/><line x1="62.7" y1="-110" x2="90.4" y2="88.6"/><line x1="-44.4" y1="-118.6" x2="126.6" y2="0.7"/><line x1="26.2" y1="-123.9" x2="116.3" y2="50"/><line x1="75.8" y1="-101.4" x2="75.3" y2="101.8"/><line x1="55.4" y1="-113.9" x2="94.5" y2="84.2"/><line x1="-12.5" y1="-126" x2="123.4" y2="28.2"/><line x1="-44.3" y1="-118.6" x2="126.6" y2="2.1"/><line x1="43.1" y1="-119" x2="101.3" y2="76"/><line x1="-4.7" y1="-126.5" x2="122.2" y2="33.2"/><line x1="-8.6" y1="-126.3" x2="123.5" y2="27.9"/><line x1="55.5" y1="-113.8" x2="94.8" y2="83.9"/><line x1="-13.6" y1="-125.9" x2="124.1" y2="25.1"/><line x1="37.8" y1="-120.8" x2="108.1" y2="65.9"/><line x1="53.6" y1="-114.7" x2="98.6" y2="79.4"/><line x1="-13.6" y1="-125.9" x2="124" y2="25.6"/><line x1="43.5" y1="-118.9" x2="108" y2="66.1"/><line x1="-49.6" y1="-116.5" x2="126.5" y2="-4.6"/><line x1="52.9" y1="-115" x2="100.1" y2="77.6"/><line x1="-53.1" y1="-114.9" x2="126.2" y2="-9.5"/><line x1="74.7" y1="-102.2" x2="80.4" y2="97.8"/><line x1="15.5" y1="-125.6" x2="116.6" y2="49.4"/><line x1="42.1" y1="-119.4" x2="107.6" y2="66.8"/><line x1="65.1" y1="-108.6" x2="82.4" y2="96.1"/><line x1="44.8" y1="-118.4" x2="104.2" y2="72"/><line x1="-0.3" y1="-126.6" x2="120.8" y2="38"/><line x1="-25" y1="-124.1" x2="125.9" y2="13.2"/><line x1="37.5" y1="-120.9" x2="109.9" y2="62.8"/><line x1="-62.3" y1="-110.2" x2="126.5" y2="-5.5"/><line x1="61.7" y1="-110.6" x2="89.7" y2="89.3"/><line x1="-35.1" y1="-121.6" x2="126.3" y2="9.2"/><line x1="-38" y1="-120.8" x2="126.6" y2="2.4"/><line x1="4.4" y1="-126.5" x2="118" y2="45.9"/><line x1="-45.5" y1="-118.1" x2="126.6" y2="-1.7"/><line x1="1.4" y1="-126.6" x2="121.3" y2="36.2"/><line x1="30" y1="-123" x2="112.2" y2="58.7"/><line x1="8.1" y1="-126.3" x2="118.6" y2="44.2"/><line x1="6.4" y1="-126.4" x2="119.5" y2="41.7"/><line x1="9.5" y1="-126.2" x2="118.7" y2="43.9"/><line x1="47.9" y1="-117.2" x2="97" y2="81.3"/><line x1="-45.1" y1="-118.3" x2="126.6" y2="2.6"/><line x1="-54.5" y1="-114.2" x2="126.5" y2="-3.6"/><line x1="68.7" y1="-106.3" x2="89.1" y2="89.9"/><line x1="72.4" y1="-103.9" x2="79.4" y2="98.6"/><line x1="4.9" y1="-126.5" x2="121.9" y2="34.2"/><line x1="65.2" y1="-108.5" x2="90.2" y2="88.9"/><line x1="-24.7" y1="-124.2" x2="123.8" y2="26.6"/><line x1="-61" y1="-110.9" x2="125.9" y2="-13.6"/><line x1="-1.6" y1="-126.6" x2="121.5" y2="35.6"/><line x1="43.6" y1="-118.9" x2="107" y2="67.7"/><line x1="43.6" y1="-118.8" x2="107" y2="67.7"/><line x1="56.3" y1="-113.4" x2="92.8" y2="86.2"/><line x1="39.9" y1="-120.2" x2="107.7" y2="66.5"/><line x1="-46.8" y1="-117.6" x2="126.6" y2="0.5"/><line x1="-47" y1="-117.5" x2="126.6" y2="-0.5"/><line x1="18.9" y1="-125.2" x2="118" y2="45.9"/><line x1="68.1" y1="-106.7" x2="86.2" y2="92.7"/><line x1="6.1" y1="-126.5" x2="118.2" y2="45.4"/><line x1="71.8" y1="-104.3" x2="84.5" y2="94.3"/><line x1="49.8" y1="-116.4" x2="99.4" y2="78.4"/><line x1="49.5" y1="-116.5" x2="98" y2="80.2"/><line x1="26.1" y1="-123.9" x2="115.4" y2="52.1"/><line x1="-6.5" y1="-126.4" x2="121.6" y2="35.1"/><line x1="33.4" y1="-122.1" x2="113.9" y2="55.3"/><line x1="-21.7" y1="-124.7" x2="124.6" y2="22.4"/><line x1="-40.7" y1="-119.9" x2="126.5" y2="4.2"/><line x1="44.8" y1="-118.4" x2="106.2" y2="68.9"/><line x1="38.7" y1="-120.5" x2="107.8" y2="66.4"/><line x1="70.9" y1="-104.9" x2="85" y2="93.9"/><line x1="-10.3" y1="-126.2" x2="124.6" y2="22.6"/><line x1="7.5" y1="-126.4" x2="117.8" y2="46.4"/><line x1="-58.5" y1="-112.3" x2="126.5" y2="-4.1"/><line x1="12.9" y1="-125.9" x2="119.1" y2="42.9"/><line x1="-64.6" y1="-108.8" x2="125.7" y2="-15.3"/><line x1="24.1" y1="-124.3" x2="114.9" y2="53.2"/><line x1="-60" y1="-111.5" x2="126.1" y2="-10.8"/><line x1="-38.8" y1="-120.5" x2="126.6" y2="2.1"/><line x1="60.3" y1="-111.3" x2="90" y2="89.1"/><line x1="-3.3" y1="-126.6" x2="121.8" y2="34.5"/><line x1="35.7" y1="-121.5" x2="111.1" y2="60.7"/><line x1="50.3" y1="-116.2" x2="101.3" y2="76"/><line x1="22.5" y1="-124.6" x2="115.8" y2="51.1"/><line x1="31.3" y1="-122.7" x2="111.7" y2="59.5"/><line x1="-10.7" y1="-126.1" x2="122.8" y2="31"/><line x1="-12.3" y1="-126" x2="123" y2="29.8"/><line x1="-14.7" y1="-125.7" x2="124.8" y2="21.3"/><line x1="42.8" y1="-119.1" x2="104.8" y2="71"/><line x1="-21.3" y1="-124.8" x2="125.5" y2="16.8"/><line x1="-14.6" y1="-125.8" x2="125.2" y2="18.9"/><line x1="47.1" y1="-117.5" x2="104.6" y2="71.3"/><line x1="36.5" y1="-121.2" x2="108.8" y2="64.7"/><line x1="57.8" y1="-112.6" x2="98.4" y2="79.7"/><line x1="12.9" y1="-125.9" x2="118.7" y2="44"/><line x1="31.2" y1="-122.7" x2="110.6" y2="61.6"/><line x1="-8.5" y1="-126.3" x2="123.5" y2="27.7"/><line x1="-28.2" y1="-123.4" x2="126" y2="12.2"/><line x1="-6.9" y1="-126.4" x2="123.5" y2="27.9"/><line x1="-4.3" y1="-126.5" x2="123.8" y2="26.6"/><line x1="16.5" y1="-125.5" x2="117" y2="48.3"/><line x1="61.7" y1="-110.5" x2="91.3" y2="87.7"/><line x1="-32.1" y1="-122.5" x2="126" y2="12.5"/><line x1="2.9" y1="-126.6" x2="121.6" y2="35.3"/><line x1="-60.1" y1="-111.4" x2="125.9" y2="-13.7"/><line x1="-42.3" y1="-119.3" x2="126.4" y2="7.4"/><line x1="53.3" y1="-114.9" x2="100.2" y2="77.3"/><line x1="-0.2" y1="-126.6" x2="121.5" y2="35.5"/><line x1="-2.7" y1="-126.6" x2="124.3" y2="24.1"/><line x1="11" y1="-126.1" x2="119.7" y2="41.3"/><line x1="-24.6" y1="-124.2" x2="125.9" y2="13.7"/><line x1="45" y1="-118.3" x2="106.9" y2="67.8"/><line x1="39.5" y1="-120.3" x2="103.9" y2="72.3"/><line x1="-4.7" y1="-126.5" x2="122.5" y2="31.9"/><line x1="32" y1="-122.5" x2="114.4" y2="54.1"/><line x1="26" y1="-123.9" x2="113.4" y2="56.3"/><line x1="25.1" y1="-124.1" x2="113.8" y2="55.4"/><line x1="0.2" y1="-126.6" x2="121.1" y2="36.9"/><line x1="24.1" y1="-124.3" x2="111.7" y2="59.7"/><line x1="71.4" y1="-104.6" x2="83" y2="95.6"/><line x1="-26.2" y1="-123.9" x2="125.5" y2="16.5"/><line x1="-60.9" y1="-111" x2="125.9" y2="-13.3"/><line x1="45.2" y1="-118.3" x2="105.8" y2="69.6"/><line x1="-42.7" y1="-119.2" x2="126.5" y2="3.8"/><line x1="-23.8" y1="-124.3" x2="125.4" y2="17.7"/><line x1="2" y1="-126.6" x2="121.7" y2="34.9"/><line x1="28" y1="-123.5" x2="113.6" y2="56"/><line x1="44.6" y1="-118.5" x2="103.8" y2="72.4"/><line x1="-20.4" y1="-125" x2="124.8" y2="21.4"/><line x1="-5.8" y1="-126.5" x2="123" y2="30.1"/><line x1="-50.5" y1="-116.1" x2="126.2" y2="-10.2"/><line x1="25.5" y1="-124" x2="113.2" y2="56.6"/><line x1="-51" y1="-115.9" x2="126.5" y2="-4"/><line x1="-29.6" y1="-123.1" x2="126.2" y2="10.3"/><line x1="-66.5" y1="-107.7" x2="125.4" y2="-17.3"/><line x1="-47.1" y1="-117.5" x2="126.5" y2="-4.1"/><line x1="-67.9" y1="-106.8" x2="125.6" y2="-15.7"/><line x1="-31.7" y1="-122.6" x2="126.1" y2="10.9"/><line x1="-44.4" y1="-118.6" x2="126.5" y2="-3.7"/><line x1="-10.7" y1="-126.1" x2="123.1" y2="29.7"/><line x1="51.7" y1="-115.6" x2="98.1" y2="80.1"/><line x1="66.4" y1="-107.8" x2="88" y2="91.1"/><line x1="29.8" y1="-123" x2="111.1" y2="60.7"/><line x1="29" y1="-123.2" x2="114.8" y2="53.3"/><line x1="45.2" y1="-118.2" x2="100.6" y2="76.8"/><line x1="70.3" y1="-105.3" x2="82.9" y2="95.6"/><line x1="-54.4" y1="-114.3" x2="126.6" y2="-1.3"/><line x1="-65.6" y1="-108.3" x2="124.2" y2="-24.3"/><line x1="65.2" y1="-108.5" x2="92.4" y2="86.5"/><line x1="21.2" y1="-124.8" x2="116" y2="50.6"/><line x1="31.3" y1="-122.7" x2="112" y2="59"/><line x1="70.1" y1="-105.4" x2="78.4" y2="99.4"/><line x1="-21.6" y1="-124.7" x2="125.1" y2="19.7"/><line x1="-67.4" y1="-107.1" x2="124.9" y2="-20.9"/><line x1="33.7" y1="-122" x2="109.4" y2="63.7"/><line x1="56.5" y1="-113.3" x2="95.1" y2="83.6"/><line x1="-21.5" y1="-124.8" x2="125.4" y2="17.2"/><line x1="-51.9" y1="-115.5" x2="126.6" y2="-0.1"/><line x1="-26.5" y1="-123.8" x2="124.9" y2="20.7"/><line x1="66.9" y1="-107.5" x2="87.6" y2="91.4"/><line x1="63" y1="-109.8" x2="92.9" y2="86"/><line x1="56.8" y1="-113.1" x2="93.6" y2="85.2"/><line x1="-69.4" y1="-105.9" x2="125.5" y2="-16.4"/><line x1="-35.3" y1="-121.6" x2="126.3" y2="8.4"/><line x1="49.2" y1="-116.7" x2="102.8" y2="73.9"/><line x1="-40.2" y1="-120" x2="126.5" y2="4.8"/><line x1="68.4" y1="-106.5" x2="84.2" y2="94.5"/><line x1="34.9" y1="-121.7" x2="109.6" y2="63.4"/><line x1="51.4" y1="-115.7" x2="105.6" y2="69.8"/><line x1="6.4" y1="-126.4" x2="118.8" y2="43.9"/><line x1="11.7" y1="-126.1" x2="115.4" y2="52.1"/><line x1="-58.6" y1="-112.2" x2="126.4" y2="-7.2"/><line x1="44.2" y1="-118.7" x2="102.3" y2="74.6"/><line x1="-25.1" y1="-124.1" x2="125.4" y2="17.3"/><line x1="-3.2" y1="-126.6" x2="119.4" y2="42"/><line x1="-28.2" y1="-123.4" x2="125.7" y2="15.1"/><line x1="24.8" y1="-124.1" x2="111.3" y2="60.3"/><line x1="-15.1" y1="-125.7" x2="122.7" y2="31"/><line x1="34.3" y1="-121.9" x2="110.3" y2="62.2"/><line x1="-66.4" y1="-107.8" x2="126" y2="-11.9"/><line x1="36.6" y1="-121.2" x2="111.6" y2="59.8"/><line x1="39.2" y1="-120.4" x2="106.4" y2="68.5"/><line x1="-0.9" y1="-126.6" x2="122.9" y2="30.5"/><line x1="-4.2" y1="-126.5" x2="121.5" y2="35.7"/><line x1="-26.2" y1="-123.9" x2="125.7" y2="14.8"/><line x1="-39.2" y1="-120.4" x2="126.5" y2="6"/><line x1="-46" y1="-117.9" x2="126.6" y2="-2"/><line x1="-1.5" y1="-126.6" x2="121.2" y2="36.7"/><line x1="40.3" y1="-120" x2="105" y2="70.8"/><line x1="-31.2" y1="-122.7" x2="126.3" y2="9.3"/><line x1="4.9" y1="-126.5" x2="120.3" y2="39.4"/><line x1="-52.9" y1="-115" x2="126.6" y2="-3"/><line x1="-0.2" y1="-126.6" x2="121.8" y2="34.5"/><line x1="-61" y1="-110.9" x2="126.5" y2="-5.7"/><line x1="58.5" y1="-112.3" x2="88.4" y2="90.6"/><line x1="-69.1" y1="-106.1" x2="125.5" y2="-16.5"/><line x1="-16.5" y1="-125.5" x2="124.4" y2="23.7"/><line x1="-60.1" y1="-111.4" x2="126.3" y2="-9.3"/><line x1="51.1" y1="-115.8" x2="101.5" y2="75.7"/><line x1="-3.4" y1="-126.6" x2="123.3" y2="28.8"/><line x1="-24" y1="-124.3" x2="125.7" y2="15.3"/><line x1="-12.9" y1="-125.9" x2="123.5" y2="27.8"/><line x1="-58.9" y1="-112.1" x2="126.2" y2="-10.1"/><line x1="70.3" y1="-105.3" x2="86.2" y2="92.7"/><line x1="26.6" y1="-123.8" x2="114.9" y2="53.2"/><line x1="14.9" y1="-125.7" x2="117.1" y2="48.2"/><line x1="17.7" y1="-125.4" x2="116.7" y2="49.1"/><line x1="11.7" y1="-126.1" x2="117" y2="48.5"/><line x1="16.7" y1="-125.5" x2="118" y2="45.8"/><line x1="-47" y1="-117.5" x2="126.1" y2="10.9"/><line x1="51.7" y1="-115.6" x2="99.3" y2="78.6"/><line x1="10.9" y1="-126.1" x2="115.1" y2="52.8"/><line x1="-11.2" y1="-126.1" x2="123.7" y2="26.9"/><line x1="-16" y1="-125.6" x2="123.8" y2="26.5"/><line x1="32.6" y1="-122.3" x2="111.8" y2="59.5"/><line x1="-55.4" y1="-113.8" x2="126.6" y2="0.9"/><line x1="66.4" y1="-107.8" x2="85.2" y2="93.6"/><line x1="-34.7" y1="-121.8" x2="126.4" y2="7.5"/><line x1="56.2" y1="-113.4" x2="96.1" y2="82.4"/><line x1="-64" y1="-109.2" x2="126.2" y2="-10.3"/><line x1="-58" y1="-112.5" x2="82.1" y2="96.4"/><line x1="16.1" y1="-125.6" x2="78" y2="99.7"/><line x1="-59.6" y1="-111.7" x2="77.4" y2="100.2"/><line x1="-28" y1="-123.5" x2="84.7" y2="94.1"/><line x1="-36.6" y1="-121.2" x2="75.9" y2="101.3"/><line x1="-44.5" y1="-118.5" x2="83.3" y2="95.3"/><line x1="-3.5" y1="-126.6" x2="82.6" y2="96"/><line x1="3" y1="-126.6" x2="80" y2="98.1"/><line x1="-0.1" y1="-126.6" x2="75.1" y2="101.9"/><line x1="10.2" y1="-126.2" x2="76.3" y2="101"/><line x1="-34.8" y1="-121.7" x2="76.1" y2="101.2"/><line x1="-29.6" y1="-123.1" x2="76.2" y2="101.1"/><line x1="-61.9" y1="-110.4" x2="77.2" y2="100.4"/><line x1="-67.4" y1="-107.1" x2="82.1" y2="96.4"/><line x1="-62.5" y1="-110.1" x2="82.7" y2="95.8"/><line x1="-44.2" y1="-118.6" x2="80.5" y2="97.7"/><line x1="-50.9" y1="-115.9" x2="77.8" y2="99.9"/><line x1="-46.5" y1="-117.7" x2="75" y2="102"/><line x1="-53" y1="-115" x2="76.1" y2="101.2"/><line x1="-3.1" y1="-126.6" x2="76.7" y2="100.7"/><line x1="12.1" y1="-126" x2="79.5" y2="98.5"/><line x1="-48.3" y1="-117" x2="84.5" y2="94.2"/><line x1="-53.2" y1="-114.9" x2="75.8" y2="101.4"/><line x1="-36.6" y1="-121.2" x2="77.9" y2="99.8"/><line x1="17.7" y1="-125.4" x2="75.7" y2="101.5"/><line x1="-7.8" y1="-126.4" x2="76" y2="101.3"/><line x1="-62.4" y1="-110.1" x2="81.5" y2="96.9"/><line x1="-9.7" y1="-126.2" x2="75.1" y2="101.9"/><line x1="14.2" y1="-125.8" x2="81.3" y2="97.1"/><line x1="-65" y1="-108.6" x2="77.7" y2="99.9"/><line x1="18" y1="-125.3" x2="77.7" y2="100"/><line x1="15.7" y1="-125.6" x2="80.8" y2="97.4"/><line x1="-66.6" y1="-107.7" x2="78.1" y2="99.7"/><line x1="-34.5" y1="-121.8" x2="77.7" y2="99.9"/><line x1="-5.1" y1="-126.5" x2="78.8" y2="99.1"/><line x1="4.6" y1="-126.5" x2="123.2" y2="-29"/><line x1="18.8" y1="-125.2" x2="125.9" y2="12.9"/><line x1="21.1" y1="-124.8" x2="94.3" y2="84.5"/><line x1="5" y1="-126.5" x2="126.1" y2="-11.1"/><line x1="45.7" y1="-118.1" x2="88.4" y2="90.6"/><line x1="8.6" y1="-126.3" x2="126.4" y2="6.5"/><line x1="9" y1="-126.3" x2="126" y2="12"/><line x1="51.3" y1="-115.8" x2="107.7" y2="66.6"/><line x1="44.4" y1="-118.6" x2="125.2" y2="19"/><line x1="50.5" y1="-116.1" x2="125.5" y2="16.4"/><line x1="67.3" y1="-107.2" x2="118.6" y2="-44.2"/><line x1="23.3" y1="-124.4" x2="120.8" y2="37.7"/><line x1="29.5" y1="-123.1" x2="103.5" y2="72.9"/><line x1="61.3" y1="-110.8" x2="125.5" y2="-16.5"/><line x1="58" y1="-112.5" x2="126.5" y2="-4.9"/><line x1="22.8" y1="-124.5" x2="126.4" y2="6.8"/><line x1="54.9" y1="-114.1" x2="116.8" y2="48.9"/><line x1="64.2" y1="-109.1" x2="121.1" y2="-37.1"/><line x1="27.6" y1="-123.6" x2="107.7" y2="66.6"/><line x1="56.7" y1="-113.2" x2="116.8" y2="48.9"/><line x1="74.1" y1="-102.7" x2="126.1" y2="11.7"/><line x1="36.5" y1="-121.2" x2="125.9" y2="-13.2"/><line x1="53.1" y1="-114.9" x2="118.4" y2="44.8"/><line x1="35.6" y1="-121.5" x2="123.1" y2="-29.4"/><line x1="26.9" y1="-123.7" x2="119.7" y2="-41.2"/><line x1="6.8" y1="-126.4" x2="124.7" y2="-21.6"/><line x1="59.7" y1="-111.7" x2="124.7" y2="-21.9"/><line x1="5.1" y1="-126.5" x2="126.4" y2="-7.7"/><line x1="34.5" y1="-121.8" x2="82.6" y2="96"/><line x1="8.3" y1="-126.3" x2="117.5" y2="-47.1"/><line x1="40.7" y1="-119.9" x2="118.9" y2="43.5"/><line x1="27.2" y1="-123.6" x2="126.6" y2="0.4"/><line x1="54.5" y1="-114.2" x2="115" y2="-52.9"/><line x1="74" y1="-102.7" x2="121.5" y2="35.4"/><line x1="71.4" y1="-104.5" x2="124.7" y2="-21.6"/><line x1="54.2" y1="-114.4" x2="119.2" y2="-42.7"/><line x1="74.3" y1="-102.5" x2="90.3" y2="88.8"/><line x1="46.9" y1="-117.6" x2="124.8" y2="-21.2"/><line x1="26.8" y1="-123.7" x2="115.4" y2="-52.1"/><line x1="60.3" y1="-111.3" x2="86.3" y2="92.7"/><line x1="12.3" y1="-126" x2="116.8" y2="48.8"/><line x1="70.3" y1="-105.3" x2="126.6" y2="-2.5"/><line x1="74.5" y1="-102.4" x2="125.2" y2="-18.8"/><line x1="74.6" y1="-102.3" x2="122" y2="-33.9"/><line x1="32.4" y1="-122.4" x2="120.8" y2="-38"/><line x1="66.2" y1="-107.9" x2="93" y2="85.9"/><line x1="54" y1="-114.5" x2="126.6" y2="-0.1"/><line x1="70.7" y1="-105" x2="104.1" y2="72.1"/><line x1="29.2" y1="-123.2" x2="121.7" y2="35"/><line x1="33.6" y1="-122.1" x2="120.8" y2="-38"/><line x1="59.2" y1="-111.9" x2="119.9" y2="40.7"/><line x1="8.1" y1="-126.3" x2="102.1" y2="74.9"/><line x1="31.9" y1="-122.5" x2="122.9" y2="30.4"/><line x1="75.3" y1="-101.8" x2="94.4" y2="84.4"/><line x1="72" y1="-104.1" x2="122.1" y2="-33.4"/><line x1="27.9" y1="-123.5" x2="102.5" y2="74.3"/><line x1="20.8" y1="-124.9" x2="125.1" y2="19.7"/><line x1="64.8" y1="-108.7" x2="117.1" y2="-48.1"/><line x1="15.9" y1="-125.6" x2="84.2" y2="94.6"/><line x1="60.3" y1="-111.3" x2="97" y2="81.3"/><line x1="49.3" y1="-116.6" x2="126.5" y2="-3.6"/><line x1="41.9" y1="-119.5" x2="115.3" y2="-52.3"/><line x1="46.4" y1="-117.8" x2="124.7" y2="-22.1"/><line x1="26.5" y1="-123.8" x2="123.5" y2="27.8"/><line x1="14.5" y1="-125.8" x2="93.7" y2="85.1"/><line x1="55.3" y1="-113.9" x2="126.3" y2="-8.8"/><line x1="9.1" y1="-126.3" x2="123.5" y2="28"/><line x1="70.1" y1="-105.4" x2="117.7" y2="-46.5"/><line x1="5.2" y1="-126.5" x2="120.1" y2="40"/><line x1="72.8" y1="-103.6" x2="123.2" y2="29.2"/><line x1="42" y1="-119.4" x2="125.5" y2="16.9"/><line x1="8.2" y1="-126.3" x2="87.7" y2="91.3"/><line x1="68.3" y1="-106.6" x2="123" y2="-29.8"/><line x1="48.9" y1="-116.8" x2="100.4" y2="77.2"/><line x1="33.1" y1="-122.2" x2="109.9" y2="62.8"/><line x1="36.7" y1="-121.2" x2="125" y2="-20.3"/><line x1="18.4" y1="-125.2" x2="115.7" y2="-51.4"/><line x1="27.5" y1="-123.6" x2="124.5" y2="-22.9"/><line x1="44.4" y1="-118.6" x2="84.5" y2="94.3"/><line x1="39.4" y1="-120.3" x2="118.4" y2="-44.8"/><line x1="47.4" y1="-117.4" x2="115.2" y2="52.5"/><line x1="72.6" y1="-103.7" x2="125.9" y2="-13.3"/><line x1="75.1" y1="-102" x2="122" y2="33.8"/><line x1="50.8" y1="-116" x2="123.5" y2="28"/><line x1="56.8" y1="-113.2" x2="115.4" y2="52"/><line x1="65.1" y1="-108.6" x2="92.6" y2="86.3"/><line x1="7.5" y1="-126.4" x2="123.8" y2="26.3"/><line x1="44.8" y1="-118.4" x2="97.7" y2="80.5"/><line x1="57.2" y1="-112.9" x2="103.4" y2="73"/><line x1="57.4" y1="-112.9" x2="110.7" y2="61.4"/><line x1="54.1" y1="-114.4" x2="118.8" y2="43.7"/><line x1="10.1" y1="-126.2" x2="118.3" y2="-45.2"/><line x1="19.3" y1="-125.1" x2="121.9" y2="34.1"/><line x1="51" y1="-115.9" x2="126.6" y2="2.8"/><line x1="71.8" y1="-104.2" x2="126" y2="-12.4"/><line x1="33.2" y1="-122.2" x2="120.6" y2="-38.5"/><line x1="29.7" y1="-123.1" x2="86.1" y2="92.8"/><line x1="5.9" y1="-126.5" x2="94.5" y2="84.2"/><line x1="19.3" y1="-125.1" x2="124" y2="-25.6"/><line x1="6.7" y1="-126.4" x2="124.8" y2="-21.5"/><line x1="14.5" y1="-125.8" x2="95.8" y2="82.8"/><line x1="33.3" y1="-122.2" x2="122.8" y2="30.8"/><line x1="63.3" y1="-109.7" x2="122.9" y2="30.5"/><line x1="57.1" y1="-113" x2="122" y2="-34"/><line x1="68" y1="-106.8" x2="103.6" y2="72.8"/><line x1="10.4" y1="-126.2" x2="122.6" y2="-31.4"/><line x1="75.4" y1="-101.7" x2="126.1" y2="-11.5"/><line x1="67.6" y1="-107" x2="124.3" y2="-23.8"/><line x1="36.1" y1="-121.3" x2="125.7" y2="14.7"/><line x1="47.4" y1="-117.4" x2="124.8" y2="-21.1"/><line x1="30.1" y1="-123" x2="126.4" y2="-7.3"/><line x1="49.5" y1="-116.5" x2="124.8" y2="21.5"/><line x1="11.8" y1="-126" x2="125.8" y2="-14.4"/><line x1="26" y1="-123.9" x2="126.5" y2="-4"/><line x1="12.6" y1="-126" x2="126.2" y2="10.1"/><line x1="41.9" y1="-119.5" x2="95.8" y2="82.7"/><line x1="29.5" y1="-123.1" x2="120.5" y2="-39"/><line x1="67.5" y1="-107.1" x2="82.5" y2="96"/><line x1="74.4" y1="-102.4" x2="126.5" y2="-5.4"/><line x1="7.6" y1="-126.4" x2="115.8" y2="-51.2"/><line x1="65.9" y1="-108.1" x2="125" y2="-19.8"/><line x1="70.8" y1="-105" x2="124.5" y2="22.8"/><line x1="35.5" y1="-121.5" x2="126.6" y2="-2.5"/><line x1="69.3" y1="-105.9" x2="102.7" y2="74.1"/><line x1="19.5" y1="-125.1" x2="121" y2="37.3"/><line x1="67.4" y1="-107.2" x2="121.9" y2="34.1"/><line x1="32.7" y1="-122.3" x2="125.6" y2="15.7"/><line x1="14.9" y1="-125.7" x2="126.3" y2="9.4"/><line x1="41.5" y1="-119.6" x2="121.4" y2="-35.8"/><line x1="37.6" y1="-120.9" x2="106.8" y2="68"/><line x1="25" y1="-124.1" x2="126" y2="-12.6"/><line x1="5" y1="-126.5" x2="110.7" y2="61.4"/><line x1="47.8" y1="-117.2" x2="125.9" y2="13.5"/><line x1="21.4" y1="-124.8" x2="123.9" y2="-25.9"/><line x1="31.9" y1="-122.5" x2="110.8" y2="61.2"/><line x1="41.1" y1="-119.8" x2="96.3" y2="82.2"/><line x1="44.5" y1="-118.5" x2="124.7" y2="21.7"/><line x1="57.5" y1="-112.8" x2="91.1" y2="87.9"/><line x1="55.4" y1="-113.9" x2="112.7" y2="57.8"/><line x1="48.8" y1="-116.8" x2="89.3" y2="89.8"/><line x1="8.4" y1="-126.3" x2="116.8" y2="-49"/><line x1="4.8" y1="-126.5" x2="118.7" y2="44.1"/><line x1="71.6" y1="-104.4" x2="123.7" y2="26.9"/><line x1="73.1" y1="-103.4" x2="121.6" y2="35.3"/><line x1="64.3" y1="-109.1" x2="126.5" y2="5.7"/><line x1="56.2" y1="-113.5" x2="118.8" y2="43.6"/><line x1="18.1" y1="-125.3" x2="89.1" y2="89.9"/><line x1="54.5" y1="-114.3" x2="120.6" y2="38.5"/><line x1="75.8" y1="-101.4" x2="126.4" y2="6.4"/><line x1="7.5" y1="-126.4" x2="121.6" y2="-35.1"/></g><g id="sT"><line x1="-56.6" y1="-113.3" x2="-31.5" y2="122.6"/><line x1="-65.5" y1="-108.3" x2="-23.5" y2="124.4"/><line x1="-65.6" y1="-108.3" x2="-21.7" y2="124.7"/><line x1="-68.7" y1="-106.4" x2="-9.7" y2="126.2"/><line x1="-58.5" y1="-112.3" x2="-27.6" y2="123.6"/><line x1="-67.7" y1="-107" x2="-21.2" y2="124.8"/><line x1="-65.4" y1="-108.4" x2="-20" y2="125"/><line x1="-58.6" y1="-112.2" x2="-32" y2="122.5"/><line x1="-69" y1="-106.1" x2="-27.5" y2="123.6"/><line x1="-54.8" y1="-114.1" x2="-28.4" y2="123.4"/><line x1="-58.2" y1="-112.5" x2="-40.5" y2="119.9"/><line x1="-56.5" y1="-113.3" x2="-27.7" y2="123.5"/><line x1="-56.3" y1="-113.4" x2="-32.1" y2="122.5"/><line x1="-56.6" y1="-113.3" x2="-31.8" y2="122.6"/><line x1="-59" y1="-112" x2="-33.2" y2="122.2"/><line x1="-65.9" y1="-108.1" x2="-20.3" y2="125"/><line x1="-60.9" y1="-111" x2="-27.7" y2="123.5"/><line x1="-55.6" y1="-113.7" x2="-33" y2="122.2"/><line x1="-67" y1="-107.4" x2="-22.6" y2="124.6"/><line x1="-57.4" y1="-112.8" x2="-33.3" y2="122.1"/><line x1="-62.2" y1="-110.3" x2="-26" y2="123.9"/><line x1="-59.9" y1="-111.5" x2="-32.3" y2="122.4"/><line x1="-68.6" y1="-106.4" x2="-25" y2="124.1"/><line x1="-56.4" y1="-113.3" x2="-29.6" y2="123.1"/><line x1="-69.1" y1="-106.1" x2="-15.6" y2="125.6"/><line x1="45.8" y1="-118" x2="-116.7" y2="49"/><line x1="55.7" y1="-113.7" x2="-117.1" y2="48.1"/><line x1="43.5" y1="-118.9" x2="-115.8" y2="51.3"/><line x1="56.9" y1="-113.1" x2="-118.8" y2="43.7"/><line x1="61.3" y1="-110.8" x2="-117.4" y2="47.3"/><line x1="66.2" y1="-107.9" x2="-117.1" y2="48"/><line x1="72.8" y1="-103.5" x2="-118.2" y2="45.3"/><line x1="32.9" y1="-122.3" x2="-110.8" y2="61.3"/><line x1="41.5" y1="-119.6" x2="-112.4" y2="58.2"/><line x1="56.7" y1="-113.2" x2="-118.6" y2="44.2"/><line x1="30.8" y1="-122.8" x2="-109.7" y2="63.1"/><line x1="29.7" y1="-123.1" x2="-109.2" y2="64.1"/><line x1="69" y1="-106.1" x2="-116.7" y2="49.1"/><line x1="32.9" y1="-122.2" x2="-110.8" y2="61.2"/><line x1="50.5" y1="-116.1" x2="-116.9" y2="48.6"/><line x1="47" y1="-117.6" x2="-117.2" y2="47.9"/><line x1="70.7" y1="-105" x2="-116.4" y2="49.8"/><line x1="34.6" y1="-121.8" x2="-111.6" y2="59.7"/><line x1="51.1" y1="-115.8" x2="-116.7" y2="49"/><line x1="30.8" y1="-122.8" x2="-109.7" y2="63.1"/><line x1="70.7" y1="-105" x2="-118.1" y2="45.6"/><line x1="39.7" y1="-120.2" x2="-114.1" y2="54.9"/><line x1="42.6" y1="-119.2" x2="-115.4" y2="52.1"/><line x1="30.7" y1="-122.8" x2="-109.7" y2="63.2"/><line x1="30.7" y1="-122.8" x2="-109.7" y2="63.3"/><line x1="41.3" y1="-119.7" x2="-114.8" y2="53.4"/><line x1="69.8" y1="-105.6" x2="-117" y2="48.3"/><line x1="39.4" y1="-120.3" x2="-113.9" y2="55.2"/><line x1="46" y1="-118" x2="-114.1" y2="54.8"/><line x1="63.9" y1="-109.3" x2="-116.9" y2="48.6"/><line x1="61.1" y1="-110.9" x2="-118.4" y2="44.7"/><line x1="73" y1="-103.4" x2="-116.8" y2="48.8"/><line x1="68.4" y1="-106.5" x2="-116.7" y2="49"/><line x1="44.5" y1="-118.5" x2="-116.2" y2="50.3"/><line x1="62.3" y1="-110.2" x2="-118.6" y2="44.2"/><line x1="45.8" y1="-118" x2="-116.7" y2="49"/><line x1="54.4" y1="-114.3" x2="-118.5" y2="44.6"/><line x1="72.2" y1="-104" x2="-118.1" y2="45.6"/><line x1="74.4" y1="-102.4" x2="-117.6" y2="46.9"/><line x1="44.8" y1="-118.4" x2="-116.3" y2="50"/><line x1="32.8" y1="-122.3" x2="-110.8" y2="61.3"/><line x1="35.9" y1="-121.4" x2="-112.3" y2="58.5"/><line x1="69.6" y1="-105.7" x2="-117" y2="48.4"/><line x1="59.7" y1="-111.7" x2="-118.4" y2="44.8"/><line x1="31.1" y1="-122.7" x2="-109.9" y2="62.9"/><line x1="44.1" y1="-118.7" x2="-23.8" y2="124.3"/><line x1="69.3" y1="-106" x2="-2.2" y2="126.6"/><line x1="18.6" y1="-125.2" x2="-92.3" y2="86.7"/><line x1="40.3" y1="-120" x2="-4.3" y2="126.5"/><line x1="49.1" y1="-116.7" x2="-35" y2="121.7"/><line x1="15.3" y1="-125.7" x2="-50" y2="116.3"/><line x1="7.5" y1="-126.4" x2="-92.7" y2="86.3"/><line x1="11.2" y1="-126.1" x2="-68.2" y2="106.6"/><line x1="56.9" y1="-113.1" x2="-98" y2="80.1"/><line x1="28.5" y1="-123.4" x2="-74.1" y2="102.7"/><line x1="19.7" y1="-125.1" x2="-95.1" y2="83.6"/><line x1="71.6" y1="-104.4" x2="-29.3" y2="123.2"/><line x1="61" y1="-110.9" x2="-10.7" y2="126.1"/><line x1="53.4" y1="-114.8" x2="-25.1" y2="124.1"/><line x1="33.8" y1="-122" x2="-99.6" y2="78.1"/><line x1="45.3" y1="-118.2" x2="-23" y2="124.5"/><line x1="-12.6" y1="-126" x2="-50.4" y2="116.1"/><line x1="38.6" y1="-120.6" x2="-63.8" y2="109.4"/><line x1="26.9" y1="-123.7" x2="-49.6" y2="116.5"/><line x1="63.9" y1="-109.3" x2="17.4" y2="125.4"/><line x1="28.6" y1="-123.3" x2="-67.8" y2="106.9"/><line x1="41.1" y1="-119.7" x2="-93.3" y2="85.6"/><line x1="51.1" y1="-115.8" x2="-54.8" y2="114.1"/><line x1="45.4" y1="-118.2" x2="-53.4" y2="114.8"/><line x1="54.8" y1="-114.1" x2="2" y2="126.6"/><line x1="61.2" y1="-110.8" x2="12.1" y2="126"/><line x1="32" y1="-122.5" x2="-76" y2="101.2"/><line x1="29.1" y1="-123.2" x2="-45" y2="118.3"/><line x1="-2.4" y1="-126.6" x2="-82.8" y2="95.7"/><line x1="4.3" y1="-126.5" x2="-52.6" y2="115.1"/><line x1="34" y1="-122" x2="-71.4" y2="104.6"/><line x1="45.5" y1="-118.1" x2="-13" y2="125.9"/><line x1="58.8" y1="-112.1" x2="-6.1" y2="126.5"/><line x1="74.4" y1="-102.4" x2="-70.6" y2="105.1"/><line x1="13.4" y1="-125.9" x2="-76.5" y2="100.9"/><line x1="32.3" y1="-122.4" x2="-34.6" y2="121.8"/><line x1="-0.8" y1="-126.6" x2="-70.6" y2="105.1"/><line x1="75.1" y1="-101.9" x2="-43" y2="119.1"/><line x1="19.5" y1="-125.1" x2="-82.7" y2="95.9"/><line x1="69.8" y1="-105.6" x2="-5" y2="126.5"/><line x1="49.8" y1="-116.4" x2="2" y2="126.6"/><line x1="58.9" y1="-112.1" x2="-43.2" y2="119"/><line x1="-3" y1="-126.6" x2="-48.7" y2="116.9"/><line x1="32.1" y1="-122.5" x2="0.8" y2="126.6"/><line x1="46.6" y1="-117.7" x2="-14.7" y2="125.7"/><line x1="67.5" y1="-107.1" x2="-7.8" y2="126.4"/><line x1="75.1" y1="-101.9" x2="13.1" y2="125.9"/><line x1="51.8" y1="-115.5" x2="-30.7" y2="122.8"/><line x1="-1.6" y1="-126.6" x2="-85.6" y2="93.3"/><line x1="16.8" y1="-125.5" x2="-72.7" y2="103.7"/><line x1="18" y1="-125.3" x2="-29.8" y2="123"/><line x1="55.3" y1="-113.9" x2="-65.2" y2="108.5"/><line x1="63.2" y1="-109.7" x2="-51.6" y2="115.6"/><line x1="59.6" y1="-111.7" x2="-61.5" y2="110.6"/><line x1="48.1" y1="-117.1" x2="-92.1" y2="86.8"/><line x1="71.2" y1="-104.6" x2="9.2" y2="126.3"/><line x1="29.8" y1="-123" x2="-99.2" y2="78.6"/><line x1="61.6" y1="-110.6" x2="-36.3" y2="121.3"/><line x1="-11.3" y1="-126.1" x2="-66.2" y2="107.9"/><line x1="46.2" y1="-117.9" x2="-108.1" y2="65.9"/><line x1="35.2" y1="-121.6" x2="-82.9" y2="95.7"/><line x1="39.2" y1="-120.4" x2="-59.7" y2="111.6"/><line x1="33.6" y1="-122.1" x2="-5.6" y2="126.5"/><line x1="6.9" y1="-126.4" x2="-64.3" y2="109.1"/><line x1="37.5" y1="-120.9" x2="-89.5" y2="89.5"/><line x1="43.9" y1="-118.8" x2="-18" y2="125.3"/><line x1="70.1" y1="-105.4" x2="5.3" y2="126.5"/><line x1="3" y1="-126.6" x2="-90.5" y2="88.5"/><line x1="49.9" y1="-116.4" x2="-24.9" y2="124.1"/><line x1="5.5" y1="-126.5" x2="-58.5" y2="112.3"/><line x1="73.6" y1="-103" x2="8.7" y2="126.3"/><line x1="-7.6" y1="-126.4" x2="-81.9" y2="96.6"/><line x1="-5.4" y1="-126.5" x2="-82.9" y2="95.7"/><line x1="50" y1="-116.3" x2="-41.4" y2="119.6"/><line x1="39.7" y1="-120.2" x2="-65.5" y2="108.3"/><line x1="57.4" y1="-112.8" x2="-34.9" y2="121.7"/><line x1="-17" y1="-125.4" x2="-39.7" y2="120.2"/><line x1="39.9" y1="-120.1" x2="-65.7" y2="108.2"/><line x1="7" y1="-126.4" x2="-39.9" y2="120.1"/><line x1="5.8" y1="-126.5" x2="-74.1" y2="102.7"/><line x1="50.1" y1="-116.3" x2="2.3" y2="126.6"/><line x1="15.8" y1="-125.6" x2="-41.9" y2="119.5"/><line x1="73.1" y1="-103.4" x2="13.6" y2="125.9"/><line x1="70.7" y1="-105" x2="-7.2" y2="126.4"/><line x1="34.3" y1="-121.9" x2="-90.8" y2="88.2"/><line x1="69" y1="-106.1" x2="-30.9" y2="122.8"/><line x1="71.7" y1="-104.3" x2="-19.4" y2="125.1"/><line x1="-12" y1="-126" x2="-73.7" y2="102.9"/><line x1="60.7" y1="-111.1" x2="-11.2" y2="126.1"/><line x1="21.4" y1="-124.8" x2="-101.1" y2="76.2"/><line x1="-9.8" y1="-126.2" x2="-56.9" y2="113.1"/><line x1="68" y1="-106.8" x2="15.3" y2="125.7"/><line x1="24.8" y1="-124.1" x2="-55.1" y2="114"/><line x1="10.8" y1="-126.1" x2="-92" y2="86.9"/><line x1="72.3" y1="-104" x2="-56.8" y2="113.1"/><line x1="70" y1="-105.5" x2="-56.2" y2="113.5"/><line x1="57" y1="-113" x2="9.1" y2="126.3"/><line x1="73.6" y1="-103" x2="-8.1" y2="126.3"/><line x1="41.9" y1="-119.5" x2="-75.3" y2="101.8"/><line x1="69.6" y1="-105.7" x2="-83.3" y2="95.3"/><line x1="56.4" y1="-113.4" x2="-46.9" y2="117.6"/><line x1="-7.7" y1="-126.4" x2="-74.9" y2="102.1"/><line x1="7.8" y1="-126.4" x2="-91.9" y2="87.1"/><line x1="45.9" y1="-118" x2="-42.5" y2="119.2"/><line x1="16.5" y1="-125.5" x2="-52.4" y2="115.3"/><line x1="41.1" y1="-119.8" x2="-41.5" y2="119.6"/><line x1="65.8" y1="-108.1" x2="-23.7" y2="124.4"/><line x1="61.4" y1="-110.7" x2="6.5" y2="126.4"/><line x1="25.4" y1="-124" x2="-89.3" y2="89.7"/><line x1="64.3" y1="-109" x2="-39.5" y2="120.3"/><line x1="37.6" y1="-120.9" x2="-42.3" y2="119.3"/><line x1="54.3" y1="-114.4" x2="-39.5" y2="120.3"/><line x1="66.6" y1="-107.6" x2="-18" y2="125.3"/><line x1="65.2" y1="-108.5" x2="-53" y2="115"/><line x1="67.5" y1="-107.1" x2="-48.4" y2="117"/><line x1="7.1" y1="-126.4" x2="-83.9" y2="94.8"/><line x1="-16.9" y1="-125.5" x2="-65.7" y2="108.2"/><line x1="62.2" y1="-110.2" x2="-31" y2="122.7"/><line x1="45.3" y1="-118.2" x2="-55.5" y2="113.8"/><line x1="49.2" y1="-116.6" x2="-58.6" y2="112.2"/><line x1="66.6" y1="-107.7" x2="-27.3" y2="123.6"/><line x1="47.7" y1="-117.3" x2="-28.7" y2="123.3"/><line x1="11.7" y1="-126.1" x2="-92.4" y2="86.5"/><line x1="44.8" y1="-118.4" x2="-62.3" y2="110.2"/><line x1="52.4" y1="-115.3" x2="-54.4" y2="114.3"/><line x1="8" y1="-126.3" x2="-50.6" y2="116"/><line x1="73.4" y1="-103.1" x2="-25.8" y2="123.9"/><line x1="64.3" y1="-109" x2="-7.7" y2="126.4"/><line x1="-13.9" y1="-125.8" x2="-74.6" y2="102.3"/><line x1="70" y1="-105.5" x2="-37.8" y2="120.8"/><line x1="22.4" y1="-124.6" x2="-88.5" y2="90.5"/><line x1="11.1" y1="-126.1" x2="-59.7" y2="111.6"/><line x1="21" y1="-124.9" x2="-58.5" y2="112.3"/><line x1="29.5" y1="-123.1" x2="-24.3" y2="124.3"/><line x1="51.9" y1="-115.5" x2="-70.4" y2="105.2"/><line x1="18.7" y1="-125.2" x2="-40.9" y2="119.8"/><line x1="36" y1="-121.4" x2="-74.7" y2="102.2"/><line x1="-7.8" y1="-126.4" x2="-81.2" y2="97.1"/><line x1="9.3" y1="-126.3" x2="-89.2" y2="89.9"/><line x1="35.8" y1="-121.4" x2="-67.8" y2="106.9"/><line x1="32.1" y1="-122.5" x2="-97.4" y2="80.9"/><line x1="48" y1="-117.1" x2="-48.9" y2="116.8"/><line x1="43.8" y1="-118.8" x2="-81.1" y2="97.2"/><line x1="39.1" y1="-120.4" x2="-11.7" y2="126.1"/><line x1="4.9" y1="-126.5" x2="-10.7" y2="126.1"/><line x1="33" y1="-122.2" x2="-48" y2="117.1"/><line x1="-3.2" y1="-126.6" x2="-71.5" y2="104.5"/><line x1="23.2" y1="-124.5" x2="-47.9" y2="117.2"/><line x1="65.7" y1="-108.2" x2="-14.4" y2="125.8"/><line x1="42.7" y1="-119.2" x2="-78.2" y2="99.6"/><line x1="57.9" y1="-112.6" x2="-26.9" y2="123.7"/><line x1="45.3" y1="-118.2" x2="-29.3" y2="123.2"/><line x1="15.6" y1="-125.6" x2="-55.7" y2="113.7"/><line x1="12.7" y1="-126" x2="-25.3" y2="124"/><line x1="12.4" y1="-126" x2="-61.1" y2="110.9"/><line x1="58.7" y1="-112.2" x2="-93.1" y2="85.8"/><line x1="22.9" y1="-124.5" x2="-88.2" y2="90.8"/><line x1="43.9" y1="-118.7" x2="-83.7" y2="95"/><line x1="7.9" y1="-126.4" x2="-75.5" y2="101.6"/><line x1="59.4" y1="-111.8" x2="6.7" y2="126.4"/><line x1="60.2" y1="-111.4" x2="-32" y2="122.5"/><line x1="-5.4" y1="-126.5" x2="-84.7" y2="94.1"/><line x1="38.8" y1="-120.5" x2="-73.4" y2="103.1"/><line x1="9.2" y1="-126.3" x2="-55.9" y2="113.6"/><line x1="44.1" y1="-118.7" x2="-86.9" y2="92.1"/><line x1="-3.7" y1="-126.5" x2="-71.6" y2="104.4"/><line x1="43.7" y1="-118.8" x2="-34.7" y2="121.8"/><line x1="75.6" y1="-101.5" x2="-19.7" y2="125.1"/><line x1="29.9" y1="-123" x2="-58.1" y2="112.5"/><line x1="69.3" y1="-105.9" x2="6.9" y2="126.4"/><line x1="59.9" y1="-111.5" x2="-59.8" y2="111.6"/><line x1="57.4" y1="-112.9" x2="-23.4" y2="124.4"/><line x1="-6.4" y1="-126.4" x2="-57.9" y2="112.6"/><line x1="9.7" y1="-126.2" x2="-23.5" y2="124.4"/><line x1="5.3" y1="-126.5" x2="-63.3" y2="109.6"/><line x1="67.4" y1="-107.2" x2="-28.4" y2="123.4"/><line x1="38.8" y1="-120.5" x2="-2.5" y2="126.6"/><line x1="42.9" y1="-119.1" x2="-31.1" y2="122.7"/><line x1="25.2" y1="-124.1" x2="-93.3" y2="85.5"/><line x1="40.4" y1="-120" x2="-9.3" y2="126.3"/><line x1="72.9" y1="-103.5" x2="-98.3" y2="79.7"/><line x1="37" y1="-121.1" x2="-67.1" y2="107.3"/><line x1="59.3" y1="-111.8" x2="-68.5" y2="106.5"/><line x1="75.2" y1="-101.8" x2="-14.7" y2="125.7"/><line x1="45.2" y1="-118.2" x2="-91.6" y2="87.4"/><line x1="27.5" y1="-123.6" x2="-63.2" y2="109.7"/><line x1="16.8" y1="-125.5" x2="-55.2" y2="113.9"/><line x1="-10" y1="-126.2" x2="-68.4" y2="106.5"/><line x1="20.4" y1="-124.9" x2="-61.1" y2="110.9"/><line x1="74.4" y1="-102.4" x2="17.3" y2="125.4"/><line x1="44.5" y1="-118.5" x2="-93.5" y2="85.3"/><line x1="55" y1="-114" x2="-45" y2="118.3"/><line x1="7.6" y1="-126.4" x2="-93.7" y2="85.1"/><line x1="67" y1="-107.4" x2="-28.4" y2="123.4"/><line x1="28.2" y1="-123.4" x2="-89" y2="90"/><line x1="41.4" y1="-119.6" x2="-93" y2="85.9"/><line x1="49.7" y1="-116.4" x2="-72.9" y2="103.5"/><line x1="58.2" y1="-112.5" x2="-31" y2="122.7"/><line x1="61.4" y1="-110.7" x2="-18.1" y2="125.3"/><line x1="47.2" y1="-117.5" x2="15.9" y2="125.6"/><line x1="72.5" y1="-103.8" x2="-31.6" y2="122.6"/><line x1="59.8" y1="-111.6" x2="-44.6" y2="118.5"/><line x1="45.6" y1="-118.1" x2="-97.6" y2="80.6"/><line x1="64.5" y1="-108.9" x2="-77.6" y2="100"/><line x1="49.2" y1="-116.6" x2="-34.3" y2="121.9"/><line x1="7.3" y1="-126.4" x2="-44" y2="118.7"/><line x1="57.4" y1="-112.8" x2="-28" y2="123.5"/><line x1="25.4" y1="-124" x2="-99.6" y2="78.1"/><line x1="58.7" y1="-112.2" x2="-44.9" y2="118.4"/><line x1="21.3" y1="-124.8" x2="-35.2" y2="121.6"/><line x1="4.4" y1="-126.5" x2="-78.5" y2="99.3"/><line x1="63.7" y1="-109.4" x2="-18.7" y2="125.2"/><line x1="56.5" y1="-113.3" x2="-3.5" y2="126.6"/><line x1="52" y1="-115.4" x2="-16.8" y2="125.5"/><line x1="56.4" y1="-113.3" x2="-32.1" y2="122.5"/><line x1="58.7" y1="-112.1" x2="-47.9" y2="117.2"/><line x1="16" y1="-125.6" x2="-44" y2="118.7"/><line x1="63.5" y1="-109.5" x2="-23.6" y2="124.4"/><line x1="38.6" y1="-120.6" x2="-32.7" y2="122.3"/><line x1="53.1" y1="-114.9" x2="-36.4" y2="121.3"/><line x1="68.9" y1="-106.2" x2="-18.6" y2="125.2"/><line x1="2.1" y1="-126.6" x2="-85" y2="93.8"/><line x1="27.8" y1="-123.5" x2="-69.7" y2="105.7"/><line x1="57.8" y1="-112.6" x2="-61" y2="110.9"/><line x1="26.9" y1="-123.7" x2="-96" y2="82.5"/><line x1="65.2" y1="-108.5" x2="-61.3" y2="110.8"/><line x1="35.4" y1="-121.5" x2="-33.9" y2="122"/><line x1="-20.8" y1="-124.9" x2="-65.7" y2="108.2"/><line x1="1.6" y1="-126.6" x2="-86.6" y2="92.4"/><line x1="63.6" y1="-109.4" x2="-33" y2="122.2"/><line x1="2.3" y1="-126.6" x2="-75.1" y2="101.9"/><line x1="35" y1="-121.7" x2="-92.4" y2="86.5"/><line x1="56.5" y1="-113.3" x2="-70.1" y2="105.4"/><line x1="71.2" y1="-104.7" x2="-88.6" y2="90.5"/><line x1="-20.5" y1="-124.9" x2="-61.8" y2="110.5"/><line x1="28.5" y1="-123.3" x2="-69" y2="106.1"/><line x1="-32.5" y1="-122.4" x2="-54.7" y2="114.2"/><line x1="43.9" y1="-118.8" x2="12.8" y2="125.9"/><line x1="67.2" y1="-107.3" x2="-52.1" y2="115.4"/><line x1="54.5" y1="-114.3" x2="-99.8" y2="77.9"/><line x1="19.2" y1="-125.1" x2="-84.2" y2="94.6"/><line x1="35.7" y1="-121.5" x2="-29.7" y2="123.1"/><line x1="68.8" y1="-106.3" x2="-27.1" y2="123.7"/><line x1="47.5" y1="-117.4" x2="-23.5" y2="124.4"/><line x1="-4" y1="-126.5" x2="-70.4" y2="105.2"/><line x1="70.3" y1="-105.3" x2="-4" y2="126.5"/><line x1="64.1" y1="-109.2" x2="-21.2" y2="124.8"/><line x1="68.9" y1="-106.2" x2="-10.9" y2="126.1"/><line x1="26.7" y1="-123.8" x2="-75.7" y2="101.5"/><line x1="27.8" y1="-123.5" x2="-55" y2="114"/><line x1="70.1" y1="-105.4" x2="-57.5" y2="112.8"/><line x1="8.5" y1="-126.3" x2="-92.5" y2="86.5"/><line x1="71.9" y1="-104.2" x2="-37.7" y2="120.8"/><line x1="8.9" y1="-126.3" x2="-49.9" y2="116.4"/><line x1="62.4" y1="-110.1" x2="-60" y2="111.5"/><line x1="25.4" y1="-124" x2="-96.2" y2="82.3"/><line x1="15.6" y1="-125.6" x2="-33.2" y2="122.2"/><line x1="72.5" y1="-103.8" x2="-31.9" y2="122.5"/><line x1="23.9" y1="-124.3" x2="-21.9" y2="124.7"/><line x1="35.7" y1="-121.5" x2="-77.3" y2="100.3"/><line x1="34.4" y1="-121.8" x2="-95.1" y2="83.5"/><line x1="33.6" y1="-122.1" x2="-83.9" y2="94.8"/><line x1="38.3" y1="-120.7" x2="-112.2" y2="58.7"/><line x1="64.6" y1="-108.9" x2="-60.6" y2="111.2"/><line x1="57.6" y1="-112.7" x2="17.5" y2="125.4"/><line x1="26.7" y1="-123.8" x2="-42.6" y2="119.2"/><line x1="41.4" y1="-119.6" x2="-79.5" y2="98.6"/><line x1="56.6" y1="-113.2" x2="-17.9" y2="125.3"/><line x1="-18.8" y1="-125.2" x2="-74.5" y2="102.3"/><line x1="68.4" y1="-106.5" x2="-61.4" y2="110.7"/><line x1="-15.1" y1="-125.7" x2="-61" y2="110.9"/><line x1="38" y1="-120.8" x2="-51.7" y2="115.6"/><line x1="21.5" y1="-124.8" x2="-11.7" y2="126.1"/><line x1="33.3" y1="-122.1" x2="-65.1" y2="108.6"/><line x1="-10.9" y1="-126.1" x2="-69.6" y2="105.8"/><line x1="11" y1="-126.1" x2="-48.5" y2="116.9"/><line x1="-12.6" y1="-126" x2="-61.8" y2="110.5"/><line x1="57.7" y1="-112.7" x2="5.5" y2="126.5"/><line x1="-16.9" y1="-125.5" x2="-51.3" y2="115.7"/><line x1="27.2" y1="-123.6" x2="-23.7" y2="124.4"/><line x1="4" y1="-126.5" x2="-77.7" y2="99.9"/><line x1="-24.1" y1="-124.3" x2="-46.4" y2="117.8"/><line x1="4.6" y1="-126.5" x2="-68" y2="106.8"/><line x1="70.8" y1="-104.9" x2="15" y2="125.7"/><line x1="-2.2" y1="-126.6" x2="-62.7" y2="110"/><line x1="14.7" y1="-125.7" x2="-94" y2="84.8"/><line x1="48.3" y1="-117" x2="-86.5" y2="92.4"/><line x1="28.8" y1="-123.3" x2="-88.8" y2="90.2"/><line x1="67.9" y1="-106.8" x2="10.2" y2="126.2"/><line x1="50" y1="-116.3" x2="-37.7" y2="120.9"/><line x1="60" y1="-111.5" x2="-9" y2="126.3"/><line x1="52.6" y1="-115.2" x2="-21.9" y2="124.7"/><line x1="-22.8" y1="-124.5" x2="-67.4" y2="107.2"/><line x1="62.1" y1="-110.3" x2="-11.9" y2="126"/><line x1="50.8" y1="-115.9" x2="0.3" y2="126.6"/><line x1="12.9" y1="-125.9" x2="-73.9" y2="102.8"/><line x1="18.5" y1="-125.2" x2="-101.8" y2="75.3"/><line x1="-5.2" y1="-126.5" x2="-33.2" y2="122.2"/><line x1="24.4" y1="-124.2" x2="-50.8" y2="116"/><line x1="7.3" y1="-126.4" x2="-24.9" y2="124.1"/><line x1="-49.1" y1="-116.7" x2="-32.5" y2="122.4"/><line x1="-41.1" y1="-119.8" x2="-53.8" y2="114.6"/><line x1="-29.4" y1="-123.1" x2="-56.4" y2="113.3"/><line x1="-12.3" y1="-126" x2="-75.9" y2="101.3"/><line x1="-4.6" y1="-126.5" x2="-77.9" y2="99.8"/><line x1="-29.2" y1="-123.2" x2="-65.5" y2="108.3"/><line x1="-11.6" y1="-126.1" x2="-81" y2="97.3"/><line x1="-62.4" y1="-110.2" x2="-31.8" y2="122.5"/><line x1="-45.6" y1="-118.1" x2="-42.9" y2="119.1"/><line x1="-30.4" y1="-122.9" x2="-52.7" y2="115.1"/><line x1="-1.1" y1="-126.6" x2="-80.2" y2="98"/><line x1="-57.5" y1="-112.8" x2="17.8" y2="125.3"/><line x1="-30.7" y1="-122.8" x2="-53.7" y2="114.6"/><line x1="-17.3" y1="-125.4" x2="-26.6" y2="123.8"/><line x1="-56.4" y1="-113.3" x2="-11.4" y2="126.1"/><line x1="-34.2" y1="-121.9" x2="-45.7" y2="118.1"/><line x1="-40.8" y1="-119.9" x2="5" y2="126.5"/><line x1="-6.9" y1="-126.4" x2="-80.2" y2="98"/><line x1="-59.4" y1="-111.8" x2="-21.8" y2="124.7"/><line x1="-32.9" y1="-122.2" x2="-59.8" y2="111.6"/><line x1="-60.6" y1="-111.1" x2="-13.8" y2="125.8"/><line x1="-7.1" y1="-126.4" x2="-83.3" y2="95.3"/><line x1="-34.2" y1="-121.9" x2="-40.5" y2="119.9"/><line x1="-30.9" y1="-122.8" x2="-36.4" y2="121.2"/><line x1="-7.5" y1="-126.4" x2="-72.4" y2="103.9"/><line x1="-21.9" y1="-124.7" x2="-73.1" y2="103.4"/><line x1="-44.1" y1="-118.7" x2="-34.9" y2="121.7"/><line x1="-5.6" y1="-126.5" x2="-70.1" y2="105.4"/><line x1="-48.2" y1="-117.1" x2="-32.9" y2="122.2"/><line x1="-27.3" y1="-123.6" x2="-60.4" y2="111.3"/><line x1="-56.8" y1="-113.1" x2="-29.7" y2="123.1"/><line x1="-18.2" y1="-125.3" x2="-36" y2="121.4"/><line x1="-33.4" y1="-122.1" x2="-59.8" y2="111.6"/><line x1="-62.7" y1="-110" x2="-27.2" y2="123.6"/><line x1="-24.5" y1="-124.2" x2="-43.8" y2="118.8"/><line x1="-2.7" y1="-126.6" x2="-75.1" y2="101.9"/><line x1="-12.3" y1="-126" x2="-57" y2="113.1"/><line x1="-6.7" y1="-126.4" x2="-82.5" y2="96"/><line x1="-49.3" y1="-116.6" x2="-41.7" y2="119.5"/><line x1="-38.9" y1="-120.5" x2="-50.5" y2="116.1"/><line x1="-3.1" y1="-126.6" x2="-74.3" y2="102.5"/><line x1="-27.4" y1="-123.6" x2="-59" y2="112"/><line x1="-26.5" y1="-123.8" x2="-56.7" y2="113.2"/><line x1="-39.9" y1="-120.2" x2="-58.4" y2="112.3"/><line x1="-1.8" y1="-126.6" x2="-88.5" y2="90.6"/><line x1="-18.2" y1="-125.3" x2="-72" y2="104.1"/><line x1="-45.1" y1="-118.3" x2="-53.4" y2="114.8"/><line x1="-56.3" y1="-113.4" x2="-31.3" y2="122.7"/><line x1="-37.4" y1="-121" x2="-58.3" y2="112.4"/><line x1="-31.8" y1="-122.5" x2="-47" y2="117.6"/><line x1="74.1" y1="-102.6" x2="-47.8" y2="117.2"/><line x1="74.3" y1="-102.5" x2="-21.8" y2="124.7"/><line x1="74.5" y1="-102.3" x2="-49.6" y2="116.5"/><line x1="73.8" y1="-102.9" x2="-51.8" y2="115.5"/><line x1="72.2" y1="-104" x2="-99.9" y2="77.8"/><line x1="73.3" y1="-103.2" x2="-43.2" y2="119"/><line x1="76.1" y1="-101.2" x2="-32.9" y2="122.2"/><line x1="70.9" y1="-104.9" x2="-92" y2="86.9"/><line x1="76.4" y1="-101" x2="-41.2" y2="119.7"/><line x1="76.4" y1="-100.9" x2="-64.6" y2="108.9"/><line x1="75.5" y1="-101.6" x2="-118.3" y2="45"/><line x1="76.3" y1="-101" x2="-67.7" y2="107"/><line x1="73.8" y1="-102.9" x2="-48.9" y2="116.8"/><line x1="76.7" y1="-100.7" x2="-21.1" y2="124.8"/><line x1="73.2" y1="-103.3" x2="-115.4" y2="52.1"/></g><g id="sTF"><line x1="75.3" y1="-101.8" x2="69" y2="106.2"/><line x1="75.6" y1="-101.6" x2="65.8" y2="108.1"/><line x1="76.5" y1="-100.8" x2="60" y2="111.5"/><line x1="76.1" y1="-101.2" x2="71.6" y2="104.4"/><line x1="76.4" y1="-101" x2="52.8" y2="115.1"/><line x1="76.5" y1="-100.8" x2="71.4" y2="104.6"/><line x1="76.4" y1="-100.9" x2="46.1" y2="117.9"/><line x1="77" y1="-100.5" x2="63.1" y2="109.8"/><line x1="77" y1="-100.5" x2="68.2" y2="106.6"/><line x1="75.8" y1="-101.4" x2="43.3" y2="119"/><line x1="76.4" y1="-101" x2="62.6" y2="110"/><line x1="76.8" y1="-100.6" x2="38.2" y2="120.7"/><line x1="76.6" y1="-100.8" x2="65" y2="108.6"/><line x1="75.8" y1="-101.4" x2="67.3" y2="107.3"/><line x1="76.3" y1="-101" x2="70" y2="105.5"/><line x1="77" y1="-100.5" x2="49.2" y2="116.7"/><line x1="76.4" y1="-100.9" x2="62.9" y2="109.9"/><line x1="76" y1="-101.2" x2="56.1" y2="113.5"/><line x1="76.9" y1="-100.6" x2="68.4" y2="106.6"/><line x1="76.9" y1="-100.5" x2="70.8" y2="105"/><line x1="76.7" y1="-100.7" x2="72.1" y2="104.1"/><line x1="76.5" y1="-100.9" x2="71.7" y2="104.3"/><line x1="76.9" y1="-100.5" x2="66.4" y2="107.8"/><line x1="76" y1="-101.2" x2="52" y2="115.4"/><line x1="77" y1="-100.5" x2="50.4" y2="116.2"/><line x1="76.1" y1="-101.2" x2="60.5" y2="111.2"/><line x1="76.6" y1="-100.8" x2="72.1" y2="104.1"/><line x1="76.8" y1="-100.6" x2="69.4" y2="105.9"/><line x1="76.6" y1="-100.8" x2="40.1" y2="120.1"/><line x1="75.3" y1="-101.8" x2="71.7" y2="104.4"/><line x1="77" y1="-100.5" x2="60.6" y2="111.1"/><line x1="76.1" y1="-101.1" x2="67.4" y2="107.2"/><line x1="75.2" y1="-101.9" x2="69.1" y2="106.1"/><line x1="75.2" y1="-101.8" x2="46" y2="118"/><line x1="77" y1="-100.5" x2="37.2" y2="121"/><line x1="76.5" y1="-100.9" x2="70.1" y2="105.4"/><line x1="76.7" y1="-100.7" x2="61.9" y2="110.4"/><line x1="76.9" y1="-100.6" x2="59.2" y2="111.9"/><line x1="76.4" y1="-101" x2="57.6" y2="112.7"/><line x1="76.5" y1="-100.9" x2="72" y2="104.1"/><line x1="76.5" y1="-100.9" x2="72.1" y2="104.1"/><line x1="76.2" y1="-101.1" x2="55.6" y2="113.8"/><line x1="76.7" y1="-100.7" x2="71.8" y2="104.3"/><line x1="77.1" y1="-100.4" x2="66.8" y2="107.5"/><line x1="77" y1="-100.5" x2="57.3" y2="112.9"/><line x1="76.2" y1="-101.1" x2="65.1" y2="108.6"/><line x1="76.6" y1="-100.8" x2="69.8" y2="105.6"/><line x1="76.9" y1="-100.5" x2="40.4" y2="120"/><line x1="76.6" y1="-100.8" x2="66.3" y2="107.9"/><line x1="75.4" y1="-101.7" x2="67.9" y2="106.9"/><line x1="75.4" y1="-101.7" x2="37.7" y2="120.8"/><line x1="76.4" y1="-100.9" x2="69.8" y2="105.6"/><line x1="76.9" y1="-100.5" x2="69.2" y2="106"/><line x1="76.5" y1="-100.9" x2="39.9" y2="120.2"/><line x1="76.1" y1="-101.2" x2="30.3" y2="122.9"/><line x1="76.5" y1="-100.9" x2="42.6" y2="119.2"/><line x1="76.2" y1="-101.1" x2="70.3" y2="105.3"/><line x1="77.1" y1="-100.5" x2="44" y2="118.7"/><line x1="75.8" y1="-101.4" x2="70.4" y2="105.2"/><line x1="76.4" y1="-100.9" x2="71.3" y2="104.6"/><line x1="76.7" y1="-100.7" x2="62.1" y2="110.3"/><line x1="77" y1="-100.5" x2="72" y2="104.2"/><line x1="76.5" y1="-100.9" x2="71.5" y2="104.4"/><line x1="76.9" y1="-100.6" x2="70.7" y2="105"/><line x1="75.9" y1="-101.3" x2="66.7" y2="107.6"/><line x1="76.8" y1="-100.6" x2="54.2" y2="114.4"/><line x1="76.4" y1="-100.9" x2="46.3" y2="117.8"/><line x1="76.9" y1="-100.6" x2="66.5" y2="107.7"/><line x1="76.8" y1="-100.6" x2="68.5" y2="106.4"/><line x1="75.9" y1="-101.3" x2="45.7" y2="118.1"/><line x1="74.9" y1="-102.1" x2="41.4" y2="119.6"/><line x1="76.9" y1="-100.5" x2="53.2" y2="114.9"/><line x1="76.9" y1="-100.6" x2="69.8" y2="105.6"/><line x1="76.2" y1="-101.1" x2="37.5" y2="120.9"/><line x1="76.8" y1="-100.7" x2="38.5" y2="120.6"/><line x1="76.2" y1="-101.1" x2="45.6" y2="118.1"/><line x1="76.8" y1="-100.7" x2="48.2" y2="117.1"/><line x1="76.7" y1="-100.7" x2="54.8" y2="114.1"/><line x1="76.6" y1="-100.8" x2="33" y2="122.2"/><line x1="77" y1="-100.5" x2="71" y2="104.8"/><line x1="76.8" y1="-100.7" x2="44.2" y2="118.6"/><line x1="76.2" y1="-101.1" x2="59.4" y2="111.8"/><line x1="76.7" y1="-100.7" x2="56.8" y2="113.1"/><line x1="77" y1="-100.5" x2="50.9" y2="115.9"/><line x1="75.9" y1="-101.3" x2="59.9" y2="111.5"/><line x1="76.5" y1="-100.8" x2="72.1" y2="104.1"/><line x1="77" y1="-100.5" x2="67.1" y2="107.4"/><line x1="76.7" y1="-100.8" x2="69.9" y2="105.5"/><line x1="76.6" y1="-100.8" x2="33.4" y2="122.1"/><line x1="76.8" y1="-100.6" x2="55.4" y2="113.9"/><line x1="76.9" y1="-100.6" x2="53.9" y2="114.6"/><line x1="76.7" y1="-100.7" x2="72.1" y2="104.1"/><line x1="75.6" y1="-101.5" x2="71.1" y2="104.8"/><line x1="76.6" y1="-100.8" x2="61.8" y2="110.5"/><line x1="75.8" y1="-101.4" x2="48.9" y2="116.8"/><line x1="76.3" y1="-101" x2="34.8" y2="121.7"/><line x1="77" y1="-100.5" x2="42.8" y2="119.2"/><line x1="76.4" y1="-100.9" x2="71.9" y2="104.2"/><line x1="76.9" y1="-100.6" x2="55.7" y2="113.7"/><line x1="76.5" y1="-100.9" x2="64.5" y2="108.9"/><line x1="76.4" y1="-100.9" x2="70.9" y2="104.9"/><line x1="74.8" y1="-102.2" x2="69.6" y2="105.8"/><line x1="76.8" y1="-100.6" x2="70.8" y2="104.9"/><line x1="75.8" y1="-101.4" x2="41.5" y2="119.6"/><line x1="77" y1="-100.5" x2="47.7" y2="117.3"/><line x1="75.4" y1="-101.7" x2="63.6" y2="109.5"/><line x1="76.3" y1="-101" x2="43.7" y2="118.8"/><line x1="76.5" y1="-100.9" x2="38" y2="120.8"/><line x1="76.6" y1="-100.8" x2="72.1" y2="104.1"/><line x1="75.7" y1="-101.5" x2="68.6" y2="106.4"/><line x1="76.8" y1="-100.7" x2="63.1" y2="109.8"/><line x1="76.3" y1="-101" x2="37.8" y2="120.8"/><line x1="76.8" y1="-100.7" x2="67.4" y2="107.1"/><line x1="76.6" y1="-100.8" x2="54.9" y2="114.1"/><line x1="76.3" y1="-101" x2="65.8" y2="108.1"/><line x1="76.1" y1="-101.1" x2="72.1" y2="104.1"/><line x1="76.8" y1="-100.6" x2="50.3" y2="116.2"/><line x1="77.1" y1="-100.5" x2="60.6" y2="111.2"/><line x1="76.9" y1="-100.6" x2="44.4" y2="118.6"/><line x1="76" y1="-101.3" x2="68.4" y2="106.5"/><line x1="76" y1="-101.3" x2="57.4" y2="112.9"/><line x1="77.1" y1="-100.4" x2="62.7" y2="110"/><line x1="76" y1="-101.2" x2="68.1" y2="106.7"/><line x1="76" y1="-101.2" x2="32" y2="122.5"/><line x1="76.3" y1="-101" x2="44" y2="118.7"/><line x1="75.5" y1="-101.6" x2="66" y2="108"/><line x1="76.5" y1="-100.9" x2="39.7" y2="120.2"/><line x1="76.7" y1="-100.7" x2="70.2" y2="105.3"/><line x1="75.8" y1="-101.4" x2="65.2" y2="108.5"/><line x1="76.1" y1="-101.2" x2="62.8" y2="109.9"/><line x1="76.7" y1="-100.7" x2="68.4" y2="106.6"/><line x1="76.8" y1="-100.7" x2="67" y2="107.4"/><line x1="76.6" y1="-100.8" x2="42.8" y2="119.2"/><line x1="76.4" y1="-101" x2="49.8" y2="116.4"/><line x1="76.2" y1="-101.1" x2="50.6" y2="116"/><line x1="76.8" y1="-100.6" x2="71.4" y2="104.6"/><line x1="77" y1="-100.5" x2="34.7" y2="121.7"/><line x1="75.8" y1="-101.4" x2="55.4" y2="113.8"/><line x1="76.4" y1="-100.9" x2="70.9" y2="104.9"/><line x1="75.8" y1="-101.4" x2="44.5" y2="118.5"/><line x1="75.5" y1="-101.6" x2="71.6" y2="104.4"/><line x1="76.5" y1="-100.8" x2="56.4" y2="113.3"/><line x1="75.7" y1="-101.5" x2="33.2" y2="122.2"/><line x1="76.5" y1="-100.9" x2="37.2" y2="121"/><line x1="75.9" y1="-101.3" x2="48.9" y2="116.8"/><line x1="76.2" y1="-101.1" x2="72" y2="104.1"/><line x1="75.8" y1="-101.4" x2="70.7" y2="105"/><line x1="76.5" y1="-100.8" x2="70" y2="105.5"/><line x1="76" y1="-101.2" x2="67.8" y2="106.9"/><line x1="76.8" y1="-100.6" x2="53.5" y2="114.7"/><line x1="77" y1="-100.5" x2="40.6" y2="119.9"/><line x1="75.8" y1="-101.4" x2="53" y2="115"/><line x1="76.6" y1="-100.8" x2="71.7" y2="104.3"/><line x1="75.3" y1="-101.8" x2="37.9" y2="120.8"/><line x1="76.1" y1="-101.2" x2="61.6" y2="110.6"/><line x1="77" y1="-100.5" x2="50.5" y2="116.1"/><line x1="76.7" y1="-100.7" x2="67" y2="107.4"/><line x1="76.2" y1="-101.1" x2="66.8" y2="107.6"/><line x1="76.9" y1="-100.6" x2="45.9" y2="118"/><line x1="76.7" y1="-100.7" x2="43.5" y2="118.9"/><line x1="75.5" y1="-101.6" x2="30.9" y2="122.8"/><line x1="77.1" y1="-100.5" x2="66.5" y2="107.7"/><line x1="77" y1="-100.5" x2="72" y2="104.1"/><line x1="76.8" y1="-100.7" x2="63.6" y2="109.4"/><line x1="76.7" y1="-100.8" x2="39.5" y2="120.3"/><line x1="77.1" y1="-100.4" x2="61.5" y2="110.6"/><line x1="76.9" y1="-100.6" x2="71.7" y2="104.3"/><line x1="77.1" y1="-100.4" x2="61.3" y2="110.8"/><line x1="77" y1="-100.5" x2="41.3" y2="119.7"/><line x1="76.3" y1="-101" x2="42.1" y2="119.4"/><line x1="76.9" y1="-100.6" x2="60.6" y2="111.2"/><line x1="76.1" y1="-101.1" x2="71.3" y2="104.6"/><line x1="76.6" y1="-100.8" x2="33.7" y2="122"/><line x1="75.6" y1="-101.6" x2="72.1" y2="104.1"/><line x1="77" y1="-100.5" x2="54" y2="114.5"/><line x1="77" y1="-100.5" x2="70.5" y2="105.1"/><line x1="75.1" y1="-101.9" x2="45.2" y2="118.2"/><line x1="77" y1="-100.5" x2="71.9" y2="104.2"/><line x1="76.1" y1="-101.2" x2="55.4" y2="113.8"/><line x1="76.7" y1="-100.7" x2="49.4" y2="116.6"/><line x1="76.3" y1="-101" x2="72.1" y2="104.1"/><line x1="76.5" y1="-100.9" x2="40.1" y2="120.1"/><line x1="76" y1="-101.2" x2="48" y2="117.1"/><line x1="77" y1="-100.5" x2="69.7" y2="105.7"/><line x1="76.8" y1="-100.6" x2="65.2" y2="108.5"/><line x1="76.1" y1="-101.2" x2="52.4" y2="115.2"/><line x1="76.7" y1="-100.7" x2="52.7" y2="115.1"/><line x1="76.1" y1="-101.2" x2="61.9" y2="110.4"/><line x1="76.9" y1="-100.6" x2="66" y2="108"/><line x1="77" y1="-100.5" x2="37.7" y2="120.8"/><line x1="75.7" y1="-101.5" x2="51.2" y2="115.8"/><line x1="76.7" y1="-100.7" x2="72" y2="104.1"/><line x1="76.9" y1="-100.6" x2="35" y2="121.7"/><line x1="76.7" y1="-100.7" x2="56.2" y2="113.4"/><line x1="76.9" y1="-100.6" x2="66" y2="108"/><line x1="76.2" y1="-101.1" x2="67" y2="107.4"/><line x1="76.4" y1="-100.9" x2="37.4" y2="120.9"/><line x1="77" y1="-100.5" x2="53" y2="115"/><line x1="77.1" y1="-100.4" x2="70.9" y2="104.9"/><line x1="76.3" y1="-101.1" x2="63" y2="109.8"/></g><path id="rM" d="M-119.2 42.7A126.6 126.6 0 0 1 77.1 -100.4Z"/><path id="rAd" d="M-70.8 -105.0A126.6 126.6 0 1 1 73.0 103.5Z"/><path id="rT" d="M-70.8 -105.0A126.6 126.6 0 0 1 77.1 -100.4L73.0 103.5A126.6 126.6 0 0 1 -119.2 42.7Z"/><path id="rFan" d="M77.1 -100.4L73.0 103.5A126.6 126.6 0 0 1 29.6 123.1Z"/><path id="rT2" d="M-70.8 -105.0A126.6 126.6 0 0 1 77.1 -100.4L28.5 123.4A126.6 126.6 0 0 1 -119.2 42.7L-55 -14.5Z"/><path id="lpG" d="M-60.31 -126.30A342.6 342.6 0 0 1 59.26 -125.78"/><path id="lpAd" d="M123.64 -61.09A162.2 162.2 0 0 1 125.63 59.10"/><path id="lpT" d="M-101.70 109.36A163.4 163.4 0 0 0 16.83 143.01"/><path id="lpM" d="M-138.60 9.40A148.6 148.6 0 0 1 -98.15 -92.51"/><g id="labels" font-family="Liberation Sans, sans-serif" font-size="15" font-weight="bold"><text fill="#8c8540"><textPath href="#lpG" textLength="120.2" lengthAdjust="spacing">Global Genes</textPath></text><text fill="#363659"><textPath href="#lpAd" textLength="123.1" lengthAdjust="spacing">Adipose Genes</textPath></text><text fill="#2e4b46"><textPath href="#lpT" textLength="126.3" lengthAdjust="spacing">Thyroid Genes</textPath></text><text fill="#7a4a32"><textPath href="#lpM" textLength="112.3" lengthAdjust="spacing">Muscle Genes</textPath></text></g><linearGradient id='gFanC' gradientUnits='userSpaceOnUse' x1='77.9' y1='-99.7' x2='55' y2='112'><stop offset='0' stop-color='#24584a'/><stop offset='0.06' stop-color='#3c6b5e'/><stop offset='0.15' stop-color='#7d9c93'/><stop offset='0.35' stop-color='#b0c4be'/><stop offset='1' stop-color='#cad7d3'/></linearGradient><linearGradient id='gFanA' gradientUnits='userSpaceOnUse' x1='77.9' y1='-99.7' x2='55' y2='112'><stop offset='0' stop-color='#666'/><stop offset='0.08' stop-color='#999'/><stop offset='0.25' stop-color='#cbcbcb'/><stop offset='1' stop-color='#e0e0e0'/></linearGradient><linearGradient id='gD' gradientUnits='userSpaceOnUse' x1='0' y1='-127' x2='-30' y2='45'><stop offset='0' stop-color='#cdae9f'/><stop offset='0.5' stop-color='#dac5bc'/><stop offset='1' stop-color='#e4d6d0'/></linearGradient><linearGradient id='gFanF' gradientUnits='userSpaceOnUse' x1='77.9' y1='-99.7' x2='55' y2='112'><stop offset='0' stop-color='#888' stop-opacity='0.25'/><stop offset='0.3' stop-color='#aaa' stop-opacity='0.12'/><stop offset='1' stop-color='#bbb' stop-opacity='0.08'/></linearGradient><radialGradient id='gAc' gradientUnits='userSpaceOnUse' cx='-10' cy='10' r='115'><stop offset='0' stop-color='#777' stop-opacity='0.26'/><stop offset='0.55' stop-color='#777' stop-opacity='0.17'/><stop offset='1' stop-color='#777' stop-opacity='0'/></radialGradient></defs><rect width="680" height="635" fill="#fff"/><g transform="translate(154.9 148.85)"><use href="#rM" fill="#999" fill-opacity="0.22"/><use href="#rAd" fill="#999" fill-opacity="0.06"/><use href="#rT" fill="#999" fill-opacity="0.03"/><use href='#rFan' fill='url(#gFanA)'/><circle r='126' fill='url(#gAc)'/><g stroke="#555" stroke-opacity="0.048" stroke-width="1.0"><use href="#sM"/></g><g stroke="#555" stroke-opacity="0.025" stroke-width="1.0"><use href="#sMt"/></g><g stroke="#555" stroke-opacity="0.052" stroke-width="1.0"><use href="#sAd"/></g><g stroke="#555" stroke-opacity="0.06" stroke-width="1.0"><use href="#sT"/></g><path d="M-70.79 -104.96A126.6 126.6 0 0 1 77.07 -100.44" fill="none" stroke="#8d9167" stroke-width="2.4"/><path d="M77.07 -100.44A126.6 126.6 0 0 1 72.98 103.45" fill="none" stroke="#2b2d72" stroke-width="3.4"/><path d="M72.98 103.45A126.6 126.6 0 0 1 -119.19 42.68" fill="none" stroke="#28504a" stroke-width="2.6"/><path d="M-119.19 42.68A126.6 126.6 0 0 1 -70.79 -104.96" fill="none" stroke="#7a4838" stroke-width="3.4"/><use href="#labels"/></g><g transform="translate(529 148.75)"><g stroke="#666" stroke-opacity="0.017" stroke-width="0.6"><use href="#sM"/><use href="#sT"/><use href="#sMt"/></g><use href="#rAd" fill="#8080a8" fill-opacity="0.12"/><g stroke="#30306e" stroke-opacity="0.23" stroke-width="0.6"><use href="#sAd"/></g><path d="M-70.79 -104.96A126.6 126.6 0 0 1 77.07 -100.44" fill="none" stroke="#8d9167" stroke-width="2.4"/><path d="M77.07 -100.44A126.6 126.6 0 0 1 72.98 103.45" fill="none" stroke="#2b2d72" stroke-width="3.4"/><path d="M72.98 103.45A126.6 126.6 0 0 1 -119.19 42.68" fill="none" stroke="#28504a" stroke-width="2.6"/><path d="M-119.19 42.68A126.6 126.6 0 0 1 -70.79 -104.96" fill="none" stroke="#7a4838" stroke-width="3.4"/><use href="#labels"/></g><g transform="translate(154.85 484.7)"><g stroke="#666" stroke-opacity="0.017" stroke-width="0.6"><use href="#sM"/><use href="#sAd"/><use href="#sMt"/></g><use href='#rT2' fill='#6a8a80' fill-opacity='0.14'/><use href='#rFan' fill='url(#gFanC)'/><g stroke="#2a5a4e" stroke-opacity="0.25" stroke-width="0.6"><use href="#sT"/></g><g stroke="#1d5a48" stroke-opacity="0.015" stroke-width="0.6"><use href="#sTF"/></g><path d="M-70.79 -104.96A126.6 126.6 0 0 1 77.07 -100.44" fill="none" stroke="#8d9167" stroke-width="2.4"/><path d="M77.07 -100.44A126.6 126.6 0 0 1 72.98 103.45" fill="none" stroke="#2b2d72" stroke-width="3.4"/><path d="M72.98 103.45A126.6 126.6 0 0 1 -119.19 42.68" fill="none" stroke="#28504a" stroke-width="2.6"/><path d="M-119.19 42.68A126.6 126.6 0 0 1 -70.79 -104.96" fill="none" stroke="#7a4838" stroke-width="3.4"/><use href="#labels"/></g><g transform="translate(528.8 484.5)"><g stroke="#666" stroke-opacity="0.017" stroke-width="0.6"><use href="#sAd"/><use href="#sT"/></g><use href='#rM' fill='url(#gD)'/><g stroke="#9a5f48" stroke-opacity="0.1" stroke-width="0.6"><use href="#sM"/></g><g stroke="#8a4a30" stroke-opacity="0.22" stroke-width="0.6"><use href="#sMt"/></g><path d="M-70.79 -104.96A126.6 126.6 0 0 1 77.07 -100.44" fill="none" stroke="#8d9167" stroke-width="2.4"/><path d="M77.07 -100.44A126.6 126.6 0 0 1 72.98 103.45" fill="none" stroke="#2b2d72" stroke-width="3.4"/><path d="M72.98 103.45A126.6 126.6 0 0 1 -119.19 42.68" fill="none" stroke="#28504a" stroke-width="2.6"/><path d="M-119.19 42.68A126.6 126.6 0 0 1 -70.79 -104.96" fill="none" stroke="#7a4838" stroke-width="3.4"/><use href="#labels"/></g><g font-family="Liberation Sans, sans-serif" font-size="16" font-weight="bold" fill="#000"><text x="4.6" y="17">A</text><text x="348.3" y="17">B</text><text x="4.3" y="347">C</text><text x="348.3" y="346.8">D</text></g></svg></body></html>
